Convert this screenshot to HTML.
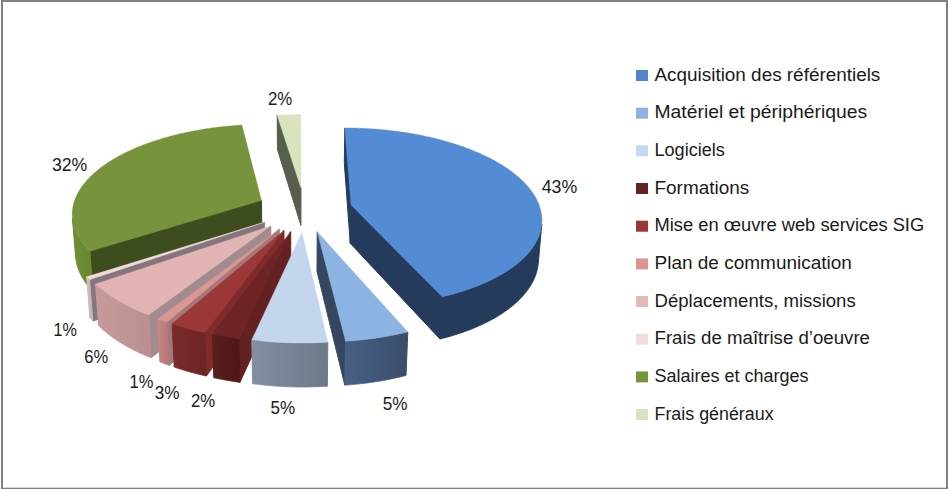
<!DOCTYPE html>
<html><head><meta charset="utf-8"><style>
html,body{margin:0;padding:0;background:#fff;}
body{width:948px;height:489px;overflow:hidden;position:relative;}
svg{position:absolute;left:0;top:0;}
text{font-family:"Liberation Sans",sans-serif;font-size:17.5px;fill:#1a1a1a;}
</style></head><body>
<svg width="948" height="489" viewBox="0 0 948 489">
<rect x="1" y="0" width="947" height="2" fill="#808080"/><rect x="1" y="0" width="2" height="489" fill="#808080"/><rect x="946" y="0" width="2" height="489" fill="#808080"/><rect x="1" y="487.7" width="947" height="1.3" fill="#808080"/>
<defs><linearGradient id="g8" gradientUnits="userSpaceOnUse" x1="72.4" y1="0" x2="89.8" y2="0"><stop offset="0" stop-color="#6F8E34"/><stop offset="1" stop-color="#6A8830"/></linearGradient><linearGradient id="g0" gradientUnits="userSpaceOnUse" x1="442.3" y1="0" x2="541.7" y2="0"><stop offset="0" stop-color="#243B5C"/><stop offset="1" stop-color="#243B5C"/></linearGradient><linearGradient id="g7" gradientUnits="userSpaceOnUse" x1="86.6" y1="0" x2="89.6" y2="0"><stop offset="0" stop-color="#D2C0C1"/><stop offset="1" stop-color="#C8B6B7"/></linearGradient><linearGradient id="g6" gradientUnits="userSpaceOnUse" x1="95.5" y1="0" x2="148.6" y2="0"><stop offset="0" stop-color="#C69B9C"/><stop offset="1" stop-color="#BC9092"/></linearGradient><linearGradient id="g5" gradientUnits="userSpaceOnUse" x1="157.6" y1="0" x2="166.9" y2="0"><stop offset="0" stop-color="#C98785"/><stop offset="1" stop-color="#B87A78"/></linearGradient><linearGradient id="g4" gradientUnits="userSpaceOnUse" x1="172.1" y1="0" x2="204.8" y2="0"><stop offset="0" stop-color="#7A2A2A"/><stop offset="1" stop-color="#6C2525"/></linearGradient><linearGradient id="g3" gradientUnits="userSpaceOnUse" x1="212.4" y1="0" x2="238.9" y2="0"><stop offset="0" stop-color="#5A1D1D"/><stop offset="1" stop-color="#4E1818"/></linearGradient><linearGradient id="g1" gradientUnits="userSpaceOnUse" x1="345.6" y1="0" x2="407.8" y2="0"><stop offset="0" stop-color="#485F83"/><stop offset="1" stop-color="#3A4E6B"/></linearGradient><linearGradient id="g2" gradientUnits="userSpaceOnUse" x1="251.8" y1="0" x2="327.8" y2="0"><stop offset="0" stop-color="#838FA0"/><stop offset="1" stop-color="#6D7889"/></linearGradient></defs><polygon points="300.96,187.90 277.18,115.27 277.44,149.44 300.93,225.44" fill="#575F4C" stroke="#575F4C" stroke-width="1.0" stroke-linejoin="round"/><polygon points="300.96,187.90 277.18,115.27 278.74,115.18 280.31,115.10 281.87,115.02 283.44,114.95 285.01,114.88 286.57,114.83 288.14,114.77 289.71,114.73 291.29,114.69 292.86,114.66 294.43,114.63 296.00,114.61 297.58,114.59 299.15,114.58 300.72,114.58" fill="#D7E4BD" stroke="#D7E4BD" stroke-width="0.4" stroke-linejoin="round"/><polygon points="261.43,200.42 89.83,251.28 92.96,291.56 261.95,238.52" fill="#3D4D1F" stroke="#3D4D1F" stroke-width="1.0" stroke-linejoin="round"/><polygon points="89.83,251.28 89.41,250.85 88.99,250.43 88.57,250.01 88.17,249.58 87.76,249.16 87.36,248.73 86.97,248.30 86.58,247.88 86.20,247.45 85.82,247.02 85.45,246.59 85.08,246.16 84.72,245.73 84.36,245.30 84.01,244.86 83.66,244.43 83.32,244.00 82.99,243.56 82.66,243.13 82.33,242.69 82.01,242.25 81.69,241.82 81.38,241.38 81.08,240.94 80.78,240.50 80.49,240.06 80.20,239.62 79.91,239.18 79.63,238.74 79.36,238.30 79.09,237.86 78.83,237.42 78.57,236.98 78.32,236.53 78.07,236.09 77.83,235.65 77.59,235.20 77.36,234.76 77.13,234.31 76.91,233.87 76.70,233.42 76.49,232.98 76.28,232.53 76.08,232.09 75.88,231.64 75.69,231.19 75.51,230.75 75.33,230.30 75.15,229.85 74.98,229.41 74.82,228.96 74.66,228.51 74.50,228.06 74.36,227.61 74.21,227.17 74.07,226.72 73.94,226.27 73.81,225.82 73.69,225.37 73.57,224.92 73.45,224.48 73.34,224.03 73.24,223.58 73.14,223.13 73.05,222.68 72.96,222.23 72.88,221.78 72.80,221.34 72.73,220.89 72.66,220.44 72.59,219.99 72.54,219.54 72.48,219.10 72.43,218.65 72.39,218.20 75.62,257.07 75.66,257.54 75.71,258.01 75.77,258.48 75.83,258.94 75.89,259.41 75.96,259.88 76.04,260.35 76.11,260.81 76.20,261.28 76.29,261.75 76.38,262.22 76.48,262.69 76.59,263.15 76.70,263.62 76.81,264.09 76.93,264.56 77.05,265.02 77.18,265.49 77.32,265.96 77.46,266.43 77.60,266.89 77.75,267.36 77.90,267.83 78.06,268.30 78.23,268.76 78.40,269.23 78.57,269.69 78.75,270.16 78.94,270.63 79.12,271.09 79.32,271.56 79.52,272.02 79.72,272.49 79.93,272.95 80.15,273.42 80.37,273.88 80.60,274.34 80.83,274.81 81.06,275.27 81.30,275.73 81.55,276.19 81.80,276.66 82.06,277.12 82.32,277.58 82.58,278.04 82.85,278.50 83.13,278.96 83.41,279.42 83.70,279.87 83.99,280.33 84.29,280.79 84.59,281.25 84.90,281.70 85.21,282.16 85.53,282.61 85.85,283.07 86.18,283.52 86.51,283.97 86.85,284.43 87.19,284.88 87.54,285.33 87.90,285.78 88.25,286.23 88.62,286.68 88.99,287.12 89.36,287.57 89.74,288.02 90.12,288.46 90.51,288.91 90.91,289.35 91.31,289.80 91.71,290.24 92.12,290.68 92.54,291.12 92.96,291.56" fill="url(#g8)" stroke="url(#g8)" stroke-width="1.0" stroke-linejoin="round"/><polygon points="261.43,200.42 89.83,251.28 89.09,250.54 88.37,249.80 87.66,249.05 86.97,248.30 86.29,247.56 85.63,246.80 84.99,246.05 84.36,245.30 83.75,244.54 83.15,243.78 82.57,243.02 82.01,242.25 81.46,241.49 80.93,240.72 80.41,239.95 79.91,239.18 79.43,238.41 78.96,237.64 78.51,236.86 78.07,236.09 77.65,235.31 77.25,234.54 76.86,233.76 76.49,232.98 76.13,232.20 75.79,231.42 75.46,230.63 75.15,229.85 74.86,229.07 74.58,228.29 74.32,227.50 74.07,226.72 73.84,225.93 73.63,225.15 73.43,224.36 73.24,223.58 73.07,222.79 72.92,222.01 72.78,221.22 72.66,220.44 72.55,219.66 72.46,218.87 72.38,218.09 72.32,217.30 72.27,216.52 72.24,215.74 72.22,214.96 72.22,214.18 72.23,213.40 72.26,212.62 72.30,211.84 72.36,211.06 72.43,210.29 72.52,209.51 72.62,208.74 72.74,207.96 72.87,207.19 73.01,206.42 73.17,205.65 73.35,204.88 73.53,204.12 73.74,203.35 73.95,202.59 74.18,201.83 74.43,201.07 74.68,200.31 74.95,199.55 75.24,198.80 75.54,198.05 75.85,197.30 76.18,196.55 76.52,195.80 76.87,195.06 77.24,194.31 77.61,193.57 78.01,192.83 78.41,192.10 78.83,191.36 79.26,190.63 79.71,189.90 80.16,189.18 80.63,188.45 81.12,187.73 81.61,187.01 82.12,186.30 82.64,185.59 83.17,184.87 83.72,184.17 84.27,183.46 84.84,182.76 85.42,182.06 86.01,181.36 86.62,180.67 87.23,179.98 87.86,179.29 88.50,178.61 89.15,177.93 89.81,177.25 90.49,176.57 91.17,175.90 91.87,175.24 92.58,174.57 93.29,173.91 94.02,173.25 94.76,172.60 95.51,171.94 96.27,171.30 97.05,170.65 97.83,170.01 98.62,169.37 99.42,168.74 100.24,168.11 101.06,167.48 101.90,166.86 102.74,166.24 103.59,165.62 104.46,165.01 105.33,164.41 106.21,163.80 107.10,163.20 108.00,162.60 108.92,162.01 109.84,161.42 110.77,160.84 111.70,160.26 112.65,159.68 113.61,159.11 114.57,158.54 115.55,157.98 116.53,157.42 117.52,156.86 118.52,156.31 119.53,155.76 120.55,155.22 121.58,154.68 122.61,154.14 123.65,153.61 124.70,153.09 125.76,152.56 126.82,152.05 127.90,151.53 128.98,151.02 130.07,150.52 131.16,150.02 132.27,149.52 133.38,149.03 134.50,148.54 135.62,148.06 136.75,147.58 137.89,147.11 139.04,146.64 140.19,146.18 141.35,145.72 142.52,145.26 143.69,144.81 144.87,144.37 146.06,143.92 147.25,143.49 148.45,143.05 149.66,142.63 150.87,142.20 152.09,141.79 153.31,141.37 154.54,140.96 155.77,140.56 157.02,140.16 158.26,139.77 159.51,139.38 160.77,138.99 162.03,138.61 163.30,138.24 164.58,137.86 165.85,137.50 167.14,137.14 168.43,136.78 169.72,136.43 171.02,136.08 172.32,135.74 173.63,135.41 174.94,135.07 176.26,134.75 177.58,134.43 178.91,134.11 180.24,133.80 181.57,133.49 182.91,133.19 184.25,132.89 185.60,132.60 186.95,132.31 188.30,132.03 189.66,131.75 191.02,131.48 192.39,131.21 193.75,130.95 195.13,130.69 196.50,130.44 197.88,130.20 199.26,129.95 200.65,129.72 202.04,129.48 203.43,129.26 204.82,129.04 206.22,128.82 207.62,128.61 209.02,128.40 210.42,128.20 211.83,128.00 213.24,127.81 214.65,127.63 216.07,127.45 217.48,127.27 218.90,127.10 220.32,126.93 221.75,126.77 223.17,126.62 224.60,126.47 226.03,126.32 227.46,126.18 228.89,126.05 230.32,125.92 231.76,125.79 233.19,125.67 234.63,125.56 236.07,125.45 237.51,125.35 238.95,125.25 240.39,125.15 241.84,125.07" fill="#77933C" stroke="#77933C" stroke-width="0.4" stroke-linejoin="round"/><polygon points="351.01,205.05 344.85,127.96 344.29,162.73 350.28,243.35" fill="#243B5C" stroke="#243B5C" stroke-width="1.0" stroke-linejoin="round"/><polygon points="351.01,205.05 442.25,296.86 439.97,339.01 350.28,243.35" fill="#243B5C" stroke="#243B5C" stroke-width="1.0" stroke-linejoin="round"/><polygon points="541.75,224.22 541.69,224.84 541.61,225.46 541.53,226.09 541.44,226.71 541.34,227.33 541.23,227.95 541.11,228.58 540.98,229.20 540.84,229.82 540.69,230.44 540.54,231.06 540.37,231.69 540.19,232.31 540.00,232.93 539.81,233.55 539.60,234.17 539.39,234.79 539.16,235.41 538.93,236.03 538.68,236.65 538.43,237.27 538.16,237.89 537.89,238.51 537.61,239.13 537.31,239.75 537.01,240.36 536.70,240.98 536.37,241.59 536.04,242.21 535.70,242.82 535.35,243.44 534.98,244.05 534.61,244.66 534.23,245.27 533.84,245.88 533.44,246.49 533.02,247.09 532.60,247.70 532.17,248.31 531.73,248.91 531.28,249.51 530.82,250.12 530.35,250.72 529.87,251.32 529.38,251.91 528.88,252.51 528.37,253.11 527.85,253.70 527.32,254.29 526.78,254.88 526.23,255.47 525.67,256.06 525.10,256.65 524.52,257.23 523.93,257.81 523.33,258.40 522.72,258.97 522.11,259.55 521.48,260.13 520.84,260.70 520.19,261.27 519.54,261.84 518.87,262.41 518.19,262.98 517.51,263.54 516.81,264.10 516.11,264.66 515.39,265.22 514.67,265.78 513.93,266.33 513.19,266.88 512.43,267.43 511.67,267.97 510.90,268.52 510.12,269.06 509.33,269.60 508.53,270.13 507.72,270.67 506.90,271.20 506.07,271.72 505.23,272.25 504.38,272.77 503.53,273.29 502.66,273.81 501.79,274.32 500.90,274.84 500.01,275.34 499.11,275.85 498.20,276.35 497.28,276.85 496.35,277.35 495.41,277.84 494.47,278.33 493.51,278.82 492.55,279.30 491.57,279.78 490.59,280.26 489.60,280.73 488.60,281.20 487.60,281.67 486.58,282.13 485.56,282.59 484.52,283.05 483.48,283.50 482.43,283.95 481.38,284.40 480.31,284.84 479.24,285.28 478.16,285.72 477.07,286.15 475.97,286.57 474.86,287.00 473.75,287.42 472.63,287.83 471.50,288.24 470.36,288.65 469.22,289.06 468.07,289.45 466.91,289.85 465.74,290.24 464.56,290.63 463.38,291.01 462.19,291.39 461.00,291.77 459.80,292.14 458.59,292.50 457.37,292.87 456.15,293.22 454.92,293.58 453.68,293.92 452.43,294.27 451.18,294.61 449.93,294.94 448.66,295.28 447.39,295.60 446.12,295.92 444.83,296.24 443.55,296.55 442.25,296.86 439.97,339.01 441.25,338.69 442.52,338.36 443.78,338.03 445.04,337.70 446.29,337.36 447.53,337.01 448.77,336.67 450.00,336.31 451.23,335.95 452.45,335.59 453.66,335.22 454.86,334.85 456.06,334.48 457.25,334.09 458.44,333.71 459.62,333.32 460.79,332.93 461.95,332.53 463.11,332.12 464.26,331.72 465.40,331.31 466.54,330.89 467.66,330.47 468.78,330.05 469.90,329.62 471.00,329.18 472.10,328.75 473.19,328.31 474.27,327.86 475.35,327.41 476.41,326.96 477.47,326.51 478.52,326.05 479.56,325.58 480.60,325.11 481.63,324.64 482.64,324.17 483.65,323.69 484.66,323.21 485.65,322.72 486.63,322.23 487.61,321.74 488.58,321.24 489.54,320.74 490.49,320.24 491.43,319.73 492.37,319.22 493.29,318.71 494.21,318.19 495.12,317.67 496.01,317.15 496.90,316.62 497.79,316.09 498.66,315.56 499.52,315.03 500.38,314.49 501.22,313.95 502.06,313.40 502.88,312.86 503.70,312.31 504.51,311.75 505.31,311.20 506.10,310.64 506.88,310.08 507.66,309.52 508.42,308.95 509.17,308.38 509.92,307.81 510.65,307.24 511.38,306.66 512.09,306.08 512.80,305.50 513.50,304.92 514.18,304.34 514.86,303.75 515.53,303.16 516.19,302.57 516.84,301.97 517.48,301.38 518.11,300.78 518.73,300.18 519.34,299.58 519.95,298.98 520.54,298.37 521.12,297.76 521.69,297.15 522.26,296.54 522.81,295.93 523.35,295.32 523.89,294.70 524.41,294.09 524.93,293.47 525.43,292.85 525.93,292.22 526.42,291.60 526.89,290.98 527.36,290.35 527.82,289.72 528.26,289.10 528.70,288.47 529.13,287.84 529.55,287.20 529.95,286.57 530.35,285.94 530.74,285.30 531.12,284.66 531.49,284.03 531.85,283.39 532.20,282.75 532.54,282.11 532.87,281.47 533.19,280.83 533.51,280.19 533.81,279.54 534.10,278.90 534.38,278.26 534.66,277.61 534.92,276.97 535.17,276.32 535.42,275.67 535.65,275.03 535.88,274.38 536.09,273.73 536.30,273.09 536.50,272.44 536.68,271.79 536.86,271.14 537.03,270.49 537.19,269.84 537.34,269.19 537.48,268.55 537.61,267.90 537.73,267.25 537.84,266.60 537.94,265.95 538.03,265.30 538.12,264.65 538.19,264.00 538.26,263.35" fill="url(#g0)" stroke="url(#g0)" stroke-width="1.0" stroke-linejoin="round"/><polygon points="351.01,205.05 344.85,127.96 346.31,127.96 347.77,127.97 349.22,127.98 350.68,128.00 352.14,128.02 353.60,128.05 355.06,128.08 356.51,128.12 357.97,128.17 359.43,128.22 360.89,128.27 362.34,128.33 363.80,128.40 365.25,128.47 366.71,128.54 368.16,128.63 369.62,128.71 371.07,128.80 372.52,128.90 373.97,129.00 375.42,129.11 376.87,129.22 378.32,129.34 379.77,129.46 381.21,129.59 382.65,129.73 384.10,129.86 385.54,130.01 386.98,130.16 388.41,130.31 389.85,130.47 391.28,130.63 392.71,130.80 394.14,130.98 395.57,131.16 397.00,131.34 398.42,131.53 399.84,131.73 401.26,131.93 402.68,132.14 404.09,132.35 405.50,132.56 406.91,132.79 408.32,133.01 409.72,133.24 411.12,133.48 412.52,133.72 413.91,133.97 415.30,134.22 416.69,134.48 418.07,134.74 419.45,135.01 420.83,135.28 422.21,135.56 423.58,135.84 424.94,136.13 426.31,136.42 427.67,136.72 429.02,137.02 430.37,137.33 431.72,137.64 433.06,137.96 434.40,138.28 435.74,138.61 437.07,138.94 438.39,139.28 439.71,139.62 441.03,139.97 442.34,140.32 443.65,140.68 444.95,141.04 446.25,141.40 447.54,141.78 448.83,142.15 450.11,142.54 451.39,142.92 452.66,143.31 453.93,143.71 455.19,144.11 456.44,144.52 457.69,144.93 458.94,145.34 460.18,145.76 461.41,146.19 462.63,146.62 463.85,147.05 465.07,147.49 466.28,147.94 467.48,148.38 468.67,148.84 469.86,149.30 471.04,149.76 472.22,150.22 473.39,150.70 474.55,151.17 475.70,151.65 476.85,152.14 477.99,152.63 479.13,153.12 480.25,153.62 481.37,154.13 482.49,154.64 483.59,155.15 484.69,155.66 485.78,156.19 486.86,156.71 487.93,157.24 489.00,157.78 490.06,158.32 491.11,158.86 492.15,159.41 493.18,159.96 494.21,160.51 495.22,161.07 496.23,161.64 497.23,162.21 498.22,162.78 499.20,163.36 500.18,163.94 501.14,164.52 502.10,165.11 503.04,165.70 503.98,166.30 504.91,166.90 505.83,167.51 506.74,168.12 507.63,168.73 508.52,169.35 509.40,169.97 510.28,170.59 511.14,171.22 511.99,171.85 512.83,172.49 513.66,173.13 514.48,173.77 515.29,174.42 516.09,175.07 516.88,175.72 517.65,176.38 518.42,177.04 519.18,177.70 519.92,178.37 520.66,179.04 521.38,179.72 522.10,180.40 522.80,181.08 523.49,181.76 524.17,182.45 524.84,183.14 525.49,183.83 526.14,184.53 526.77,185.23 527.39,185.94 528.00,186.64 528.60,187.35 529.19,188.06 529.76,188.78 530.32,189.50 530.87,190.22 531.41,190.94 531.93,191.67 532.45,192.40 532.95,193.13 533.43,193.86 533.91,194.60 534.37,195.34 534.82,196.08 535.25,196.82 535.67,197.57 536.08,198.32 536.48,199.07 536.86,199.82 537.23,200.58 537.59,201.33 537.93,202.09 538.26,202.86 538.58,203.62 538.88,204.38 539.17,205.15 539.44,205.92 539.70,206.69 539.95,207.46 540.18,208.24 540.40,209.01 540.60,209.79 540.79,210.57 540.96,211.35 541.13,212.13 541.27,212.91 541.40,213.70 541.52,214.48 541.62,215.27 541.71,216.06 541.79,216.84 541.84,217.63 541.89,218.42 541.92,219.22 541.93,220.01 541.93,220.80 541.91,221.59 541.88,222.39 541.83,223.18 541.77,223.98 541.69,224.77 541.60,225.57 541.49,226.36 541.37,227.16 541.23,227.95 541.07,228.75 540.90,229.54 540.72,230.34 540.52,231.14 540.30,231.93 540.07,232.73 539.82,233.52 539.55,234.32 539.27,235.11 538.98,235.90 538.66,236.70 538.34,237.49 537.99,238.28 537.63,239.07 537.26,239.86 536.87,240.65 536.46,241.43 536.03,242.22 535.59,243.01 535.14,243.79 534.67,244.57 534.18,245.35 533.67,246.13 533.15,246.91 532.62,247.68 532.06,248.46 531.49,249.23 530.91,250.00 530.31,250.77 529.69,251.53 529.06,252.30 528.41,253.06 527.74,253.82 527.06,254.58 526.36,255.33 525.65,256.08 524.92,256.83 524.17,257.58 523.41,258.32 522.63,259.06 521.84,259.80 521.03,260.54 520.20,261.27 519.36,262.00 518.50,262.72 517.63,263.44 516.74,264.16 515.83,264.88 514.91,265.59 513.97,266.30 513.02,267.00 512.05,267.70 511.07,268.40 510.07,269.09 509.06,269.78 508.03,270.46 506.98,271.14 505.92,271.82 504.85,272.49 503.76,273.15 502.65,273.81 501.53,274.47 500.40,275.12 499.25,275.77 498.08,276.41 496.90,277.05 495.71,277.68 494.50,278.31 493.28,278.93 492.04,279.55 490.79,280.16 489.53,280.77 488.25,281.37 486.95,281.97 485.65,282.55 484.32,283.14 482.99,283.72 481.64,284.29 480.28,284.85 478.90,285.41 477.52,285.97 476.12,286.52 474.70,287.06 473.27,287.59 471.84,288.12 470.38,288.64 468.92,289.16 467.44,289.67 465.95,290.17 464.45,290.67 462.94,291.16 461.41,291.64 459.88,292.11 458.33,292.58 456.77,293.04 455.20,293.49 453.62,293.94 452.03,294.38 450.42,294.81 448.81,295.24 447.19,295.65 445.55,296.06 443.91,296.47 442.25,296.86" fill="#538CD4" stroke="#538CD4" stroke-width="0.4" stroke-linejoin="round"/><polygon points="264.24,222.27 89.56,279.66 92.81,321.11 264.73,261.32" fill="#84767A" stroke="#84767A" stroke-width="1.0" stroke-linejoin="round"/><polygon points="89.56,279.66 89.55,279.65 89.54,279.64 89.53,279.64 89.53,279.63 89.52,279.62 89.51,279.62 89.50,279.61 89.50,279.60 89.49,279.59 89.48,279.59 89.47,279.58 89.47,279.57 89.46,279.56 89.45,279.56 89.44,279.55 89.44,279.54 89.43,279.54 89.42,279.53 89.41,279.52 89.40,279.51 89.40,279.51 89.39,279.50 89.38,279.49 89.37,279.49 89.37,279.48 89.36,279.47 89.35,279.46 89.34,279.46 89.34,279.45 89.33,279.44 89.32,279.43 89.31,279.43 89.31,279.42 89.30,279.41 89.29,279.41 89.28,279.40 89.27,279.39 89.27,279.38 89.26,279.38 89.25,279.37 89.24,279.36 89.24,279.36 89.23,279.35 89.22,279.34 89.21,279.33 89.21,279.33 89.20,279.32 89.19,279.31 89.18,279.30 89.18,279.30 89.17,279.29 89.16,279.28 89.15,279.28 89.15,279.27 89.14,279.26 89.13,279.25 89.12,279.25 89.12,279.24 89.11,279.23 89.10,279.23 89.09,279.22 89.08,279.21 89.08,279.20 89.07,279.20 89.06,279.19 89.05,279.18 89.05,279.17 89.04,279.17 89.03,279.16 89.02,279.15 89.02,279.15 89.01,279.14 89.00,279.13 88.99,279.12 88.99,279.12 88.98,279.11 88.97,279.10 88.96,279.10 88.96,279.09 88.95,279.08 88.94,279.07 88.93,279.07 88.93,279.06 88.92,279.05 88.91,279.04 88.90,279.04 88.90,279.03 88.89,279.02 88.88,279.02 88.87,279.01 88.87,279.00 88.86,278.99 88.85,278.99 88.84,278.98 88.84,278.97 88.83,278.97 88.82,278.96 88.81,278.95 88.80,278.94 88.80,278.94 88.79,278.93 88.78,278.92 88.77,278.91 88.77,278.91 88.76,278.90 88.75,278.89 88.74,278.89 88.74,278.88 88.73,278.87 88.72,278.86 88.71,278.86 88.71,278.85 88.70,278.84 88.69,278.83 88.68,278.83 88.68,278.82 88.67,278.81 88.66,278.81 88.65,278.80 88.65,278.79 88.64,278.78 88.63,278.78 88.62,278.77 88.62,278.76 88.61,278.76 88.60,278.75 88.59,278.74 88.59,278.73 88.58,278.73 88.57,278.72 88.56,278.71 88.56,278.70 88.55,278.70 88.54,278.69 88.53,278.68 88.53,278.68 88.52,278.67 88.51,278.66 88.50,278.65 88.50,278.65 88.49,278.64 88.48,278.63 88.47,278.62 88.47,278.62 88.46,278.61 88.45,278.60 88.44,278.60 88.44,278.59 88.43,278.58 88.42,278.57 88.42,278.57 88.41,278.56 88.40,278.55 88.39,278.55 88.39,278.54 88.38,278.53 88.37,278.52 88.36,278.52 88.36,278.51 88.35,278.50 88.34,278.49 88.33,278.49 88.33,278.48 88.32,278.47 88.31,278.47 88.30,278.46 88.30,278.45 88.29,278.44 88.28,278.44 88.27,278.43 88.27,278.42 88.26,278.41 88.25,278.41 88.24,278.40 88.24,278.39 88.23,278.39 88.22,278.38 88.21,278.37 88.21,278.36 88.20,278.36 88.19,278.35 88.18,278.34 88.18,278.33 88.17,278.33 88.16,278.32 88.15,278.31 88.15,278.31 88.14,278.30 88.13,278.29 88.13,278.28 88.12,278.28 88.11,278.27 88.10,278.26 88.10,278.25 88.09,278.25 88.08,278.24 88.07,278.23 88.07,278.23 88.06,278.22 88.05,278.21 88.04,278.20 88.04,278.20 88.03,278.19 88.02,278.18 88.01,278.18 88.01,278.17 88.00,278.16 87.99,278.15 87.98,278.15 87.98,278.14 87.97,278.13 87.96,278.12 87.96,278.12 87.95,278.11 87.94,278.10 87.93,278.10 87.93,278.09 87.92,278.08 87.91,278.07 87.90,278.07 87.90,278.06 87.89,278.05 87.88,278.04 87.87,278.04 87.87,278.03 87.86,278.02 87.85,278.02 87.84,278.01 87.84,278.00 87.83,277.99 87.82,277.99 87.82,277.98 87.81,277.97 87.80,277.96 87.79,277.96 87.79,277.95 87.78,277.94 87.77,277.94 87.76,277.93 87.76,277.92 87.75,277.91 87.74,277.91 87.73,277.90 87.73,277.89 87.72,277.88 87.71,277.88 87.71,277.87 87.70,277.86 87.69,277.86 87.68,277.85 87.68,277.84 87.67,277.83 87.66,277.83 87.65,277.82 87.65,277.81 87.64,277.80 87.63,277.80 87.62,277.79 87.62,277.78 87.61,277.78 87.60,277.77 87.60,277.76 87.59,277.75 87.58,277.75 87.57,277.74 87.57,277.73 87.56,277.72 87.55,277.72 87.54,277.71 87.54,277.70 87.53,277.70 87.52,277.69 87.52,277.68 87.51,277.67 87.50,277.67 87.49,277.66 87.49,277.65 87.48,277.64 87.47,277.64 87.46,277.63 87.46,277.62 87.45,277.62 87.44,277.61 87.44,277.60 87.43,277.59 87.42,277.59 87.41,277.58 87.41,277.57 87.40,277.56 87.39,277.56 87.38,277.55 87.38,277.54 87.37,277.53 87.36,277.53 87.36,277.52 87.35,277.51 87.34,277.51 87.33,277.50 87.33,277.49 87.32,277.48 87.31,277.48 87.30,277.47 87.30,277.46 87.29,277.45 87.28,277.45 87.28,277.44 87.27,277.43 87.26,277.43 87.25,277.42 87.25,277.41 87.24,277.40 87.23,277.40 87.22,277.39 87.22,277.38 87.21,277.37 87.20,277.37 87.20,277.36 87.19,277.35 87.18,277.35 87.17,277.34 87.17,277.33 87.16,277.32 87.15,277.32 87.15,277.31 87.14,277.30 87.13,277.29 87.12,277.29 87.12,277.28 87.11,277.27 87.10,277.27 87.09,277.26 87.09,277.25 87.08,277.24 87.07,277.24 87.07,277.23 87.06,277.22 87.05,277.21 87.04,277.21 87.04,277.20 87.03,277.19 87.02,277.19 87.02,277.18 87.01,277.17 87.00,277.16 86.99,277.16 86.99,277.15 86.98,277.14 86.97,277.13 86.97,277.13 86.96,277.12 86.95,277.11 86.94,277.10 86.94,277.10 86.93,277.09 86.92,277.08 86.92,277.08 86.91,277.07 86.90,277.06 86.89,277.05 86.89,277.05 86.88,277.04 86.87,277.03 86.86,277.02 86.86,277.02 86.85,277.01 86.84,277.00 86.84,277.00 86.83,276.99 86.82,276.98 86.81,276.97 86.81,276.97 86.80,276.96 86.79,276.95 86.79,276.94 86.78,276.94 86.77,276.93 86.76,276.92 86.76,276.91 86.75,276.91 86.74,276.90 86.74,276.89 86.73,276.89 86.72,276.88 86.71,276.87 86.71,276.86 86.70,276.86 86.69,276.85 86.69,276.84 86.68,276.83 86.67,276.83 86.66,276.82 86.66,276.81 86.65,276.81 86.64,276.80 86.64,276.79 86.63,276.78 86.62,276.78 86.62,276.77 86.61,276.76 89.90,318.10 89.90,318.11 89.91,318.11 89.92,318.12 89.92,318.13 89.93,318.14 89.94,318.14 89.94,318.15 89.95,318.16 89.96,318.17 89.97,318.17 89.97,318.18 89.98,318.19 89.99,318.20 89.99,318.20 90.00,318.21 90.01,318.22 90.01,318.23 90.02,318.24 90.03,318.24 90.04,318.25 90.04,318.26 90.05,318.27 90.06,318.27 90.06,318.28 90.07,318.29 90.08,318.30 90.09,318.30 90.09,318.31 90.10,318.32 90.11,318.33 90.11,318.33 90.12,318.34 90.13,318.35 90.14,318.36 90.14,318.36 90.15,318.37 90.16,318.38 90.16,318.39 90.17,318.39 90.18,318.40 90.18,318.41 90.19,318.42 90.20,318.43 90.21,318.43 90.21,318.44 90.22,318.45 90.23,318.46 90.23,318.46 90.24,318.47 90.25,318.48 90.26,318.49 90.26,318.49 90.27,318.50 90.28,318.51 90.28,318.52 90.29,318.52 90.30,318.53 90.31,318.54 90.31,318.55 90.32,318.55 90.33,318.56 90.33,318.57 90.34,318.58 90.35,318.58 90.36,318.59 90.36,318.60 90.37,318.61 90.38,318.61 90.38,318.62 90.39,318.63 90.40,318.64 90.41,318.65 90.41,318.65 90.42,318.66 90.43,318.67 90.43,318.68 90.44,318.68 90.45,318.69 90.46,318.70 90.46,318.71 90.47,318.71 90.48,318.72 90.48,318.73 90.49,318.74 90.50,318.74 90.51,318.75 90.51,318.76 90.52,318.77 90.53,318.77 90.53,318.78 90.54,318.79 90.55,318.80 90.56,318.80 90.56,318.81 90.57,318.82 90.58,318.83 90.58,318.83 90.59,318.84 90.60,318.85 90.61,318.86 90.61,318.87 90.62,318.87 90.63,318.88 90.63,318.89 90.64,318.90 90.65,318.90 90.66,318.91 90.66,318.92 90.67,318.93 90.68,318.93 90.68,318.94 90.69,318.95 90.70,318.96 90.71,318.96 90.71,318.97 90.72,318.98 90.73,318.99 90.73,318.99 90.74,319.00 90.75,319.01 90.76,319.02 90.76,319.02 90.77,319.03 90.78,319.04 90.79,319.05 90.79,319.05 90.80,319.06 90.81,319.07 90.81,319.08 90.82,319.09 90.83,319.09 90.84,319.10 90.84,319.11 90.85,319.12 90.86,319.12 90.86,319.13 90.87,319.14 90.88,319.15 90.89,319.15 90.89,319.16 90.90,319.17 90.91,319.18 90.92,319.18 90.92,319.19 90.93,319.20 90.94,319.21 90.94,319.21 90.95,319.22 90.96,319.23 90.97,319.24 90.97,319.24 90.98,319.25 90.99,319.26 90.99,319.27 91.00,319.27 91.01,319.28 91.02,319.29 91.02,319.30 91.03,319.30 91.04,319.31 91.05,319.32 91.05,319.33 91.06,319.33 91.07,319.34 91.07,319.35 91.08,319.36 91.09,319.37 91.10,319.37 91.10,319.38 91.11,319.39 91.12,319.40 91.13,319.40 91.13,319.41 91.14,319.42 91.15,319.43 91.15,319.43 91.16,319.44 91.17,319.45 91.18,319.46 91.18,319.46 91.19,319.47 91.20,319.48 91.21,319.49 91.21,319.49 91.22,319.50 91.23,319.51 91.23,319.52 91.24,319.52 91.25,319.53 91.26,319.54 91.26,319.55 91.27,319.55 91.28,319.56 91.29,319.57 91.29,319.58 91.30,319.58 91.31,319.59 91.32,319.60 91.32,319.61 91.33,319.61 91.34,319.62 91.34,319.63 91.35,319.64 91.36,319.64 91.37,319.65 91.37,319.66 91.38,319.67 91.39,319.68 91.40,319.68 91.40,319.69 91.41,319.70 91.42,319.71 91.42,319.71 91.43,319.72 91.44,319.73 91.45,319.74 91.45,319.74 91.46,319.75 91.47,319.76 91.48,319.77 91.48,319.77 91.49,319.78 91.50,319.79 91.51,319.80 91.51,319.80 91.52,319.81 91.53,319.82 91.54,319.83 91.54,319.83 91.55,319.84 91.56,319.85 91.56,319.86 91.57,319.86 91.58,319.87 91.59,319.88 91.59,319.89 91.60,319.89 91.61,319.90 91.62,319.91 91.62,319.92 91.63,319.92 91.64,319.93 91.65,319.94 91.65,319.95 91.66,319.95 91.67,319.96 91.67,319.97 91.68,319.98 91.69,319.98 91.70,319.99 91.70,320.00 91.71,320.01 91.72,320.01 91.73,320.02 91.73,320.03 91.74,320.04 91.75,320.04 91.76,320.05 91.76,320.06 91.77,320.07 91.78,320.08 91.79,320.08 91.79,320.09 91.80,320.10 91.81,320.11 91.82,320.11 91.82,320.12 91.83,320.13 91.84,320.14 91.84,320.14 91.85,320.15 91.86,320.16 91.87,320.17 91.87,320.17 91.88,320.18 91.89,320.19 91.90,320.20 91.90,320.20 91.91,320.21 91.92,320.22 91.93,320.23 91.93,320.23 91.94,320.24 91.95,320.25 91.96,320.26 91.96,320.26 91.97,320.27 91.98,320.28 91.99,320.29 91.99,320.29 92.00,320.30 92.01,320.31 92.02,320.32 92.02,320.32 92.03,320.33 92.04,320.34 92.05,320.35 92.05,320.35 92.06,320.36 92.07,320.37 92.08,320.38 92.08,320.38 92.09,320.39 92.10,320.40 92.11,320.41 92.11,320.41 92.12,320.42 92.13,320.43 92.13,320.44 92.14,320.44 92.15,320.45 92.16,320.46 92.16,320.47 92.17,320.47 92.18,320.48 92.19,320.49 92.19,320.50 92.20,320.50 92.21,320.51 92.22,320.52 92.22,320.53 92.23,320.53 92.24,320.54 92.25,320.55 92.25,320.56 92.26,320.56 92.27,320.57 92.28,320.58 92.28,320.59 92.29,320.59 92.30,320.60 92.31,320.61 92.31,320.62 92.32,320.62 92.33,320.63 92.34,320.64 92.34,320.65 92.35,320.65 92.36,320.66 92.37,320.67 92.37,320.68 92.38,320.68 92.39,320.69 92.40,320.70 92.40,320.71 92.41,320.71 92.42,320.72 92.43,320.73 92.43,320.74 92.44,320.74 92.45,320.75 92.46,320.76 92.46,320.77 92.47,320.78 92.48,320.78 92.49,320.79 92.49,320.80 92.50,320.81 92.51,320.81 92.52,320.82 92.52,320.83 92.53,320.84 92.54,320.84 92.55,320.85 92.55,320.86 92.56,320.87 92.57,320.87 92.58,320.88 92.59,320.89 92.59,320.90 92.60,320.90 92.61,320.91 92.62,320.92 92.62,320.93 92.63,320.93 92.64,320.94 92.65,320.95 92.65,320.96 92.66,320.96 92.67,320.97 92.68,320.98 92.68,320.99 92.69,320.99 92.70,321.00 92.71,321.01 92.71,321.02 92.72,321.02 92.73,321.03 92.74,321.04 92.74,321.05 92.75,321.05 92.76,321.06 92.77,321.07 92.77,321.08 92.78,321.08 92.79,321.09 92.80,321.10 92.80,321.11 92.81,321.11" fill="url(#g7)" stroke="url(#g7)" stroke-width="1.0" stroke-linejoin="round"/><polygon points="264.24,222.27 89.56,279.66 88.55,278.70 87.57,277.73 86.61,276.76" fill="#F2DCDB" stroke="#F2DCDB" stroke-width="0.4" stroke-linejoin="round"/><polygon points="270.72,226.05 148.59,314.90 151.04,357.76 271.12,265.26" fill="#A08C8F" stroke="#A08C8F" stroke-width="1.0" stroke-linejoin="round"/><polygon points="148.59,314.90 148.42,314.84 148.25,314.77 148.08,314.71 147.91,314.65 147.75,314.58 147.58,314.52 147.41,314.46 147.24,314.39 147.07,314.33 146.91,314.27 146.74,314.20 146.57,314.14 146.40,314.07 146.24,314.01 146.07,313.95 145.90,313.88 145.74,313.82 145.57,313.75 145.41,313.69 145.24,313.62 145.07,313.56 144.91,313.49 144.74,313.43 144.58,313.36 144.41,313.30 144.25,313.23 144.08,313.17 143.92,313.10 143.76,313.04 143.59,312.97 143.43,312.91 143.26,312.84 143.10,312.78 142.94,312.71 142.77,312.64 142.61,312.58 142.45,312.51 142.28,312.45 142.12,312.38 141.96,312.31 141.80,312.25 141.63,312.18 141.47,312.11 141.31,312.05 141.15,311.98 140.99,311.91 140.83,311.85 140.66,311.78 140.50,311.71 140.34,311.65 140.18,311.58 140.02,311.51 139.86,311.44 139.70,311.38 139.54,311.31 139.38,311.24 139.22,311.17 139.06,311.11 138.90,311.04 138.74,310.97 138.59,310.90 138.43,310.83 138.27,310.77 138.11,310.70 137.95,310.63 137.79,310.56 137.64,310.49 137.48,310.42 137.32,310.35 137.16,310.29 137.01,310.22 136.85,310.15 136.69,310.08 136.53,310.01 136.38,309.94 136.22,309.87 136.07,309.80 135.91,309.73 135.75,309.66 135.60,309.59 135.44,309.52 135.29,309.46 135.13,309.39 134.98,309.32 134.82,309.25 134.67,309.18 134.51,309.11 134.36,309.04 134.21,308.97 134.05,308.90 133.90,308.82 133.74,308.75 133.59,308.68 133.44,308.61 133.28,308.54 133.13,308.47 132.98,308.40 132.83,308.33 132.67,308.26 132.52,308.19 132.37,308.12 132.22,308.05 132.07,307.97 131.92,307.90 131.76,307.83 131.61,307.76 131.46,307.69 131.31,307.62 131.16,307.55 131.01,307.47 130.86,307.40 130.71,307.33 130.56,307.26 130.41,307.19 130.26,307.11 130.11,307.04 129.96,306.97 129.81,306.90 129.67,306.82 129.52,306.75 129.37,306.68 129.22,306.61 129.07,306.53 128.92,306.46 128.78,306.39 128.63,306.32 128.48,306.24 128.33,306.17 128.19,306.10 128.04,306.02 127.89,305.95 127.75,305.88 127.60,305.80 127.46,305.73 127.31,305.66 127.16,305.58 127.02,305.51 126.87,305.44 126.73,305.36 126.58,305.29 126.44,305.21 126.29,305.14 126.15,305.07 126.01,304.99 125.86,304.92 125.72,304.84 125.57,304.77 125.43,304.69 125.29,304.62 125.14,304.54 125.00,304.47 124.86,304.39 124.72,304.32 124.57,304.24 124.43,304.17 124.29,304.09 124.15,304.02 124.01,303.94 123.86,303.87 123.72,303.79 123.58,303.72 123.44,303.64 123.30,303.57 123.16,303.49 123.02,303.42 122.88,303.34 122.74,303.26 122.60,303.19 122.46,303.11 122.32,303.04 122.18,302.96 122.04,302.88 121.90,302.81 121.77,302.73 121.63,302.66 121.49,302.58 121.35,302.50 121.21,302.43 121.07,302.35 120.94,302.27 120.80,302.20 120.66,302.12 120.53,302.04 120.39,301.97 120.25,301.89 120.12,301.81 119.98,301.73 119.84,301.66 119.71,301.58 119.57,301.50 119.44,301.43 119.30,301.35 119.17,301.27 119.03,301.19 118.90,301.12 118.76,301.04 118.63,300.96 118.49,300.88 118.36,300.80 118.23,300.73 118.09,300.65 117.96,300.57 117.83,300.49 117.69,300.41 117.56,300.34 117.43,300.26 117.30,300.18 117.16,300.10 117.03,300.02 116.90,299.94 116.77,299.86 116.64,299.79 116.51,299.71 116.37,299.63 116.24,299.55 116.11,299.47 115.98,299.39 115.85,299.31 115.72,299.23 115.59,299.15 115.46,299.08 115.33,299.00 115.20,298.92 115.07,298.84 114.95,298.76 114.82,298.68 114.69,298.60 114.56,298.52 114.43,298.44 114.30,298.36 114.18,298.28 114.05,298.20 113.92,298.12 113.79,298.04 113.67,297.96 113.54,297.88 113.41,297.80 113.29,297.72 113.16,297.64 113.04,297.56 112.91,297.48 112.78,297.40 112.66,297.32 112.53,297.24 112.41,297.15 112.28,297.07 112.16,296.99 112.03,296.91 111.91,296.83 111.79,296.75 111.66,296.67 111.54,296.59 111.41,296.51 111.29,296.43 111.17,296.34 111.05,296.26 110.92,296.18 110.80,296.10 110.68,296.02 110.56,295.94 110.43,295.86 110.31,295.77 110.19,295.69 110.07,295.61 109.95,295.53 109.83,295.45 109.71,295.37 109.59,295.28 109.47,295.20 109.35,295.12 109.23,295.04 109.11,294.95 108.99,294.87 108.87,294.79 108.75,294.71 108.63,294.63 108.51,294.54 108.39,294.46 108.27,294.38 108.15,294.30 108.04,294.21 107.92,294.13 107.80,294.05 107.68,293.96 107.57,293.88 107.45,293.80 107.33,293.72 107.22,293.63 107.10,293.55 106.98,293.47 106.87,293.38 106.75,293.30 106.64,293.22 106.52,293.13 106.41,293.05 106.29,292.97 106.18,292.88 106.06,292.80 105.95,292.72 105.83,292.63 105.72,292.55 105.61,292.46 105.49,292.38 105.38,292.30 105.26,292.21 105.15,292.13 105.04,292.04 104.93,291.96 104.81,291.88 104.70,291.79 104.59,291.71 104.48,291.62 104.37,291.54 104.26,291.45 104.14,291.37 104.03,291.29 103.92,291.20 103.81,291.12 103.70,291.03 103.59,290.95 103.48,290.86 103.37,290.78 103.26,290.69 103.15,290.61 103.04,290.52 102.93,290.44 102.83,290.35 102.72,290.27 102.61,290.18 102.50,290.10 102.39,290.01 102.28,289.93 102.18,289.84 102.07,289.76 101.96,289.67 101.86,289.59 101.75,289.50 101.64,289.41 101.54,289.33 101.43,289.24 101.32,289.16 101.22,289.07 101.11,288.99 101.01,288.90 100.90,288.81 100.80,288.73 100.69,288.64 100.59,288.56 100.48,288.47 100.38,288.38 100.28,288.30 100.17,288.21 100.07,288.13 99.96,288.04 99.86,287.95 99.76,287.87 99.66,287.78 99.55,287.69 99.45,287.61 99.35,287.52 99.25,287.43 99.15,287.35 99.04,287.26 98.94,287.17 98.84,287.09 98.74,287.00 98.64,286.91 98.54,286.83 98.44,286.74 98.34,286.65 98.24,286.57 98.14,286.48 98.04,286.39 97.94,286.30 97.84,286.22 97.74,286.13 97.65,286.04 97.55,285.96 97.45,285.87 97.35,285.78 97.25,285.69 97.15,285.61 97.06,285.52 96.96,285.43 96.86,285.34 96.77,285.26 96.67,285.17 96.57,285.08 96.48,284.99 96.38,284.90 96.29,284.82 96.19,284.73 96.09,284.64 96.00,284.55 95.90,284.46 95.81,284.38 95.72,284.29 95.62,284.20 95.53,284.11 98.71,325.75 98.80,325.84 98.89,325.93 98.99,326.02 99.08,326.11 99.17,326.21 99.27,326.30 99.36,326.39 99.46,326.48 99.55,326.57 99.65,326.66 99.74,326.75 99.84,326.85 99.93,326.94 100.03,327.03 100.12,327.12 100.22,327.21 100.32,327.30 100.41,327.39 100.51,327.48 100.61,327.57 100.70,327.66 100.80,327.76 100.90,327.85 101.00,327.94 101.09,328.03 101.19,328.12 101.29,328.21 101.39,328.30 101.49,328.39 101.59,328.48 101.68,328.57 101.78,328.66 101.88,328.75 101.98,328.84 102.08,328.93 102.18,329.02 102.28,329.11 102.38,329.20 102.48,329.29 102.59,329.38 102.69,329.47 102.79,329.56 102.89,329.65 102.99,329.74 103.09,329.83 103.19,329.92 103.30,330.01 103.40,330.10 103.50,330.19 103.60,330.28 103.71,330.37 103.81,330.46 103.91,330.55 104.02,330.64 104.12,330.73 104.23,330.82 104.33,330.91 104.43,331.00 104.54,331.08 104.64,331.17 104.75,331.26 104.85,331.35 104.96,331.44 105.07,331.53 105.17,331.62 105.28,331.71 105.38,331.80 105.49,331.88 105.60,331.97 105.70,332.06 105.81,332.15 105.92,332.24 106.03,332.33 106.13,332.42 106.24,332.50 106.35,332.59 106.46,332.68 106.57,332.77 106.67,332.86 106.78,332.95 106.89,333.03 107.00,333.12 107.11,333.21 107.22,333.30 107.33,333.39 107.44,333.47 107.55,333.56 107.66,333.65 107.77,333.74 107.88,333.82 107.99,333.91 108.10,334.00 108.21,334.09 108.33,334.17 108.44,334.26 108.55,334.35 108.66,334.43 108.77,334.52 108.89,334.61 109.00,334.70 109.11,334.78 109.23,334.87 109.34,334.96 109.45,335.04 109.57,335.13 109.68,335.22 109.79,335.30 109.91,335.39 110.02,335.48 110.14,335.56 110.25,335.65 110.37,335.74 110.48,335.82 110.60,335.91 110.71,336.00 110.83,336.08 110.95,336.17 111.06,336.25 111.18,336.34 111.30,336.43 111.41,336.51 111.53,336.60 111.65,336.68 111.76,336.77 111.88,336.85 112.00,336.94 112.12,337.03 112.24,337.11 112.35,337.20 112.47,337.28 112.59,337.37 112.71,337.45 112.83,337.54 112.95,337.62 113.07,337.71 113.19,337.79 113.31,337.88 113.43,337.96 113.55,338.05 113.67,338.13 113.79,338.22 113.91,338.30 114.03,338.39 114.15,338.47 114.27,338.56 114.40,338.64 114.52,338.72 114.64,338.81 114.76,338.89 114.88,338.98 115.01,339.06 115.13,339.15 115.25,339.23 115.38,339.31 115.50,339.40 115.62,339.48 115.75,339.56 115.87,339.65 115.99,339.73 116.12,339.82 116.24,339.90 116.37,339.98 116.49,340.07 116.62,340.15 116.74,340.23 116.87,340.32 116.99,340.40 117.12,340.48 117.25,340.57 117.37,340.65 117.50,340.73 117.63,340.81 117.75,340.90 117.88,340.98 118.01,341.06 118.13,341.14 118.26,341.23 118.39,341.31 118.52,341.39 118.65,341.47 118.77,341.56 118.90,341.64 119.03,341.72 119.16,341.80 119.29,341.89 119.42,341.97 119.55,342.05 119.68,342.13 119.81,342.21 119.94,342.29 120.07,342.38 120.20,342.46 120.33,342.54 120.46,342.62 120.59,342.70 120.72,342.78 120.85,342.86 120.98,342.95 121.12,343.03 121.25,343.11 121.38,343.19 121.51,343.27 121.64,343.35 121.78,343.43 121.91,343.51 122.04,343.59 122.18,343.67 122.31,343.75 122.44,343.83 122.58,343.91 122.71,344.00 122.84,344.08 122.98,344.16 123.11,344.24 123.25,344.32 123.38,344.40 123.52,344.48 123.65,344.56 123.79,344.64 123.92,344.71 124.06,344.79 124.20,344.87 124.33,344.95 124.47,345.03 124.60,345.11 124.74,345.19 124.88,345.27 125.02,345.35 125.15,345.43 125.29,345.51 125.43,345.59 125.57,345.67 125.70,345.74 125.84,345.82 125.98,345.90 126.12,345.98 126.26,346.06 126.40,346.14 126.54,346.22 126.67,346.29 126.81,346.37 126.95,346.45 127.09,346.53 127.23,346.61 127.37,346.68 127.51,346.76 127.65,346.84 127.80,346.92 127.94,347.00 128.08,347.07 128.22,347.15 128.36,347.23 128.50,347.31 128.64,347.38 128.79,347.46 128.93,347.54 129.07,347.61 129.21,347.69 129.35,347.77 129.50,347.85 129.64,347.92 129.78,348.00 129.93,348.08 130.07,348.15 130.21,348.23 130.36,348.30 130.50,348.38 130.65,348.46 130.79,348.53 130.94,348.61 131.08,348.69 131.23,348.76 131.37,348.84 131.52,348.91 131.66,348.99 131.81,349.06 131.95,349.14 132.10,349.22 132.25,349.29 132.39,349.37 132.54,349.44 132.69,349.52 132.83,349.59 132.98,349.67 133.13,349.74 133.27,349.82 133.42,349.89 133.57,349.97 133.72,350.04 133.87,350.12 134.02,350.19 134.16,350.26 134.31,350.34 134.46,350.41 134.61,350.49 134.76,350.56 134.91,350.64 135.06,350.71 135.21,350.78 135.36,350.86 135.51,350.93 135.66,351.01 135.81,351.08 135.96,351.15 136.11,351.23 136.26,351.30 136.41,351.37 136.56,351.45 136.72,351.52 136.87,351.59 137.02,351.66 137.17,351.74 137.32,351.81 137.48,351.88 137.63,351.96 137.78,352.03 137.93,352.10 138.09,352.17 138.24,352.25 138.39,352.32 138.55,352.39 138.70,352.46 138.85,352.53 139.01,352.61 139.16,352.68 139.32,352.75 139.47,352.82 139.63,352.89 139.78,352.96 139.94,353.04 140.09,353.11 140.25,353.18 140.40,353.25 140.56,353.32 140.71,353.39 140.87,353.46 141.03,353.53 141.18,353.60 141.34,353.67 141.50,353.74 141.65,353.82 141.81,353.89 141.97,353.96 142.13,354.03 142.28,354.10 142.44,354.17 142.60,354.24 142.76,354.31 142.91,354.38 143.07,354.45 143.23,354.52 143.39,354.59 143.55,354.65 143.71,354.72 143.87,354.79 144.03,354.86 144.19,354.93 144.35,355.00 144.51,355.07 144.67,355.14 144.83,355.21 144.99,355.28 145.15,355.35 145.31,355.41 145.47,355.48 145.63,355.55 145.79,355.62 145.95,355.69 146.11,355.76 146.28,355.82 146.44,355.89 146.60,355.96 146.76,356.03 146.92,356.09 147.09,356.16 147.25,356.23 147.41,356.30 147.58,356.36 147.74,356.43 147.90,356.50 148.07,356.57 148.23,356.63 148.39,356.70 148.56,356.77 148.72,356.83 148.89,356.90 149.05,356.97 149.21,357.03 149.38,357.10 149.54,357.17 149.71,357.23 149.88,357.30 150.04,357.36 150.21,357.43 150.37,357.50 150.54,357.56 150.70,357.63 150.87,357.69 151.04,357.76" fill="url(#g6)" stroke="url(#g6)" stroke-width="1.0" stroke-linejoin="round"/><polygon points="270.72,226.05 148.59,314.90 147.03,314.31 145.48,313.72 143.95,313.11 142.43,312.50 140.92,311.89 139.43,311.26 137.96,310.63 136.50,309.99 135.05,309.35 133.62,308.70 132.21,308.04 130.81,307.38 129.42,306.71 128.05,306.03 126.70,305.35 125.36,304.66 124.04,303.96 122.74,303.26 121.45,302.56 120.17,301.84 118.92,301.13 117.68,300.40 116.45,299.67 115.24,298.94 114.05,298.20 112.88,297.46 111.72,296.71 110.58,295.95 109.45,295.19 108.35,294.43 107.26,293.66 106.18,292.89 105.13,292.11 104.09,291.33 103.07,290.54 102.06,289.75 101.08,288.96 100.11,288.16 99.16,287.36 98.22,286.55 97.31,285.74 96.41,284.93 95.53,284.11" fill="#E2B4B4" stroke="#E2B4B4" stroke-width="0.4" stroke-linejoin="round"/><polygon points="279.23,229.23 166.93,322.25 169.10,365.40 279.52,268.58" fill="#A47778" stroke="#A47778" stroke-width="1.0" stroke-linejoin="round"/><polygon points="166.93,322.25 166.91,322.24 166.88,322.24 166.86,322.23 166.83,322.22 166.81,322.21 166.79,322.20 166.76,322.20 166.74,322.19 166.71,322.18 166.69,322.17 166.67,322.16 166.64,322.16 166.62,322.15 166.59,322.14 166.57,322.13 166.55,322.13 166.52,322.12 166.50,322.11 166.47,322.10 166.45,322.09 166.43,322.09 166.40,322.08 166.38,322.07 166.35,322.06 166.33,322.05 166.31,322.05 166.28,322.04 166.26,322.03 166.24,322.02 166.21,322.01 166.19,322.01 166.16,322.00 166.14,321.99 166.12,321.98 166.09,321.97 166.07,321.97 166.04,321.96 166.02,321.95 166.00,321.94 165.97,321.93 165.95,321.93 165.92,321.92 165.90,321.91 165.88,321.90 165.85,321.90 165.83,321.89 165.81,321.88 165.78,321.87 165.76,321.86 165.73,321.86 165.71,321.85 165.69,321.84 165.66,321.83 165.64,321.82 165.61,321.82 165.59,321.81 165.57,321.80 165.54,321.79 165.52,321.78 165.50,321.78 165.47,321.77 165.45,321.76 165.42,321.75 165.40,321.74 165.38,321.74 165.35,321.73 165.33,321.72 165.31,321.71 165.28,321.70 165.26,321.70 165.23,321.69 165.21,321.68 165.19,321.67 165.16,321.66 165.14,321.66 165.11,321.65 165.09,321.64 165.07,321.63 165.04,321.62 165.02,321.62 165.00,321.61 164.97,321.60 164.95,321.59 164.92,321.58 164.90,321.58 164.88,321.57 164.85,321.56 164.83,321.55 164.81,321.54 164.78,321.54 164.76,321.53 164.73,321.52 164.71,321.51 164.69,321.50 164.66,321.49 164.64,321.49 164.62,321.48 164.59,321.47 164.57,321.46 164.55,321.45 164.52,321.45 164.50,321.44 164.47,321.43 164.45,321.42 164.43,321.41 164.40,321.41 164.38,321.40 164.36,321.39 164.33,321.38 164.31,321.37 164.28,321.37 164.26,321.36 164.24,321.35 164.21,321.34 164.19,321.33 164.17,321.33 164.14,321.32 164.12,321.31 164.10,321.30 164.07,321.29 164.05,321.29 164.02,321.28 164.00,321.27 163.98,321.26 163.95,321.25 163.93,321.24 163.91,321.24 163.88,321.23 163.86,321.22 163.84,321.21 163.81,321.20 163.79,321.20 163.76,321.19 163.74,321.18 163.72,321.17 163.69,321.16 163.67,321.16 163.65,321.15 163.62,321.14 163.60,321.13 163.58,321.12 163.55,321.12 163.53,321.11 163.50,321.10 163.48,321.09 163.46,321.08 163.43,321.07 163.41,321.07 163.39,321.06 163.36,321.05 163.34,321.04 163.32,321.03 163.29,321.03 163.27,321.02 163.25,321.01 163.22,321.00 163.20,320.99 163.17,320.98 163.15,320.98 163.13,320.97 163.10,320.96 163.08,320.95 163.06,320.94 163.03,320.94 163.01,320.93 162.99,320.92 162.96,320.91 162.94,320.90 162.92,320.90 162.89,320.89 162.87,320.88 162.85,320.87 162.82,320.86 162.80,320.85 162.78,320.85 162.75,320.84 162.73,320.83 162.70,320.82 162.68,320.81 162.66,320.81 162.63,320.80 162.61,320.79 162.59,320.78 162.56,320.77 162.54,320.76 162.52,320.76 162.49,320.75 162.47,320.74 162.45,320.73 162.42,320.72 162.40,320.72 162.38,320.71 162.35,320.70 162.33,320.69 162.31,320.68 162.28,320.67 162.26,320.67 162.24,320.66 162.21,320.65 162.19,320.64 162.17,320.63 162.14,320.62 162.12,320.62 162.09,320.61 162.07,320.60 162.05,320.59 162.02,320.58 162.00,320.58 161.98,320.57 161.95,320.56 161.93,320.55 161.91,320.54 161.88,320.53 161.86,320.53 161.84,320.52 161.81,320.51 161.79,320.50 161.77,320.49 161.74,320.48 161.72,320.48 161.70,320.47 161.67,320.46 161.65,320.45 161.63,320.44 161.60,320.44 161.58,320.43 161.56,320.42 161.53,320.41 161.51,320.40 161.49,320.39 161.46,320.39 161.44,320.38 161.42,320.37 161.39,320.36 161.37,320.35 161.35,320.34 161.32,320.34 161.30,320.33 161.28,320.32 161.25,320.31 161.23,320.30 161.21,320.29 161.18,320.29 161.16,320.28 161.14,320.27 161.11,320.26 161.09,320.25 161.07,320.25 161.04,320.24 161.02,320.23 161.00,320.22 160.97,320.21 160.95,320.20 160.93,320.20 160.90,320.19 160.88,320.18 160.86,320.17 160.83,320.16 160.81,320.15 160.79,320.15 160.76,320.14 160.74,320.13 160.72,320.12 160.69,320.11 160.67,320.10 160.65,320.10 160.63,320.09 160.60,320.08 160.58,320.07 160.56,320.06 160.53,320.05 160.51,320.05 160.49,320.04 160.46,320.03 160.44,320.02 160.42,320.01 160.39,320.00 160.37,320.00 160.35,319.99 160.32,319.98 160.30,319.97 160.28,319.96 160.25,319.95 160.23,319.95 160.21,319.94 160.18,319.93 160.16,319.92 160.14,319.91 160.11,319.90 160.09,319.90 160.07,319.89 160.04,319.88 160.02,319.87 160.00,319.86 159.98,319.85 159.95,319.85 159.93,319.84 159.91,319.83 159.88,319.82 159.86,319.81 159.84,319.80 159.81,319.79 159.79,319.79 159.77,319.78 159.74,319.77 159.72,319.76 159.70,319.75 159.67,319.74 159.65,319.74 159.63,319.73 159.61,319.72 159.58,319.71 159.56,319.70 159.54,319.69 159.51,319.69 159.49,319.68 159.47,319.67 159.44,319.66 159.42,319.65 159.40,319.64 159.37,319.64 159.35,319.63 159.33,319.62 159.30,319.61 159.28,319.60 159.26,319.59 159.24,319.59 159.21,319.58 159.19,319.57 159.17,319.56 159.14,319.55 159.12,319.54 159.10,319.53 159.07,319.53 159.05,319.52 159.03,319.51 159.01,319.50 158.98,319.49 158.96,319.48 158.94,319.48 158.91,319.47 158.89,319.46 158.87,319.45 158.84,319.44 158.82,319.43 158.80,319.42 158.77,319.42 158.75,319.41 158.73,319.40 158.71,319.39 158.68,319.38 158.66,319.37 158.64,319.37 158.61,319.36 158.59,319.35 158.57,319.34 158.54,319.33 158.52,319.32 158.50,319.31 158.48,319.31 158.45,319.30 158.43,319.29 158.41,319.28 158.38,319.27 158.36,319.26 158.34,319.26 158.32,319.25 158.29,319.24 158.27,319.23 158.25,319.22 158.22,319.21 158.20,319.20 158.18,319.20 158.15,319.19 158.13,319.18 158.11,319.17 158.09,319.16 158.06,319.15 158.04,319.15 158.02,319.14 157.99,319.13 157.97,319.12 157.95,319.11 157.93,319.10 157.90,319.09 157.88,319.09 157.86,319.08 157.83,319.07 157.81,319.06 157.79,319.05 157.77,319.04 157.74,319.03 157.72,319.03 157.70,319.02 157.67,319.01 157.65,319.00 157.63,318.99 157.60,318.98 157.58,318.97 159.90,361.99 159.92,362.00 159.94,362.01 159.96,362.02 159.99,362.03 160.01,362.04 160.03,362.05 160.05,362.05 160.08,362.06 160.10,362.07 160.12,362.08 160.14,362.09 160.17,362.10 160.19,362.11 160.21,362.12 160.23,362.12 160.26,362.13 160.28,362.14 160.30,362.15 160.32,362.16 160.35,362.17 160.37,362.18 160.39,362.19 160.41,362.20 160.44,362.20 160.46,362.21 160.48,362.22 160.50,362.23 160.53,362.24 160.55,362.25 160.57,362.26 160.60,362.27 160.62,362.27 160.64,362.28 160.66,362.29 160.69,362.30 160.71,362.31 160.73,362.32 160.75,362.33 160.78,362.34 160.80,362.35 160.82,362.35 160.84,362.36 160.87,362.37 160.89,362.38 160.91,362.39 160.93,362.40 160.96,362.41 160.98,362.42 161.00,362.42 161.03,362.43 161.05,362.44 161.07,362.45 161.09,362.46 161.12,362.47 161.14,362.48 161.16,362.49 161.18,362.49 161.21,362.50 161.23,362.51 161.25,362.52 161.27,362.53 161.30,362.54 161.32,362.55 161.34,362.56 161.37,362.56 161.39,362.57 161.41,362.58 161.43,362.59 161.46,362.60 161.48,362.61 161.50,362.62 161.52,362.63 161.55,362.63 161.57,362.64 161.59,362.65 161.62,362.66 161.64,362.67 161.66,362.68 161.68,362.69 161.71,362.70 161.73,362.70 161.75,362.71 161.77,362.72 161.80,362.73 161.82,362.74 161.84,362.75 161.87,362.76 161.89,362.77 161.91,362.77 161.93,362.78 161.96,362.79 161.98,362.80 162.00,362.81 162.02,362.82 162.05,362.83 162.07,362.84 162.09,362.84 162.12,362.85 162.14,362.86 162.16,362.87 162.18,362.88 162.21,362.89 162.23,362.90 162.25,362.90 162.28,362.91 162.30,362.92 162.32,362.93 162.34,362.94 162.37,362.95 162.39,362.96 162.41,362.97 162.44,362.97 162.46,362.98 162.48,362.99 162.50,363.00 162.53,363.01 162.55,363.02 162.57,363.03 162.60,363.04 162.62,363.04 162.64,363.05 162.66,363.06 162.69,363.07 162.71,363.08 162.73,363.09 162.76,363.10 162.78,363.10 162.80,363.11 162.82,363.12 162.85,363.13 162.87,363.14 162.89,363.15 162.92,363.16 162.94,363.16 162.96,363.17 162.98,363.18 163.01,363.19 163.03,363.20 163.05,363.21 163.08,363.22 163.10,363.23 163.12,363.23 163.14,363.24 163.17,363.25 163.19,363.26 163.21,363.27 163.24,363.28 163.26,363.29 163.28,363.29 163.30,363.30 163.33,363.31 163.35,363.32 163.37,363.33 163.40,363.34 163.42,363.35 163.44,363.35 163.47,363.36 163.49,363.37 163.51,363.38 163.53,363.39 163.56,363.40 163.58,363.41 163.60,363.41 163.63,363.42 163.65,363.43 163.67,363.44 163.69,363.45 163.72,363.46 163.74,363.47 163.76,363.48 163.79,363.48 163.81,363.49 163.83,363.50 163.86,363.51 163.88,363.52 163.90,363.53 163.92,363.54 163.95,363.54 163.97,363.55 163.99,363.56 164.02,363.57 164.04,363.58 164.06,363.59 164.09,363.60 164.11,363.60 164.13,363.61 164.16,363.62 164.18,363.63 164.20,363.64 164.22,363.65 164.25,363.65 164.27,363.66 164.29,363.67 164.32,363.68 164.34,363.69 164.36,363.70 164.39,363.71 164.41,363.71 164.43,363.72 164.45,363.73 164.48,363.74 164.50,363.75 164.52,363.76 164.55,363.77 164.57,363.77 164.59,363.78 164.62,363.79 164.64,363.80 164.66,363.81 164.69,363.82 164.71,363.83 164.73,363.83 164.75,363.84 164.78,363.85 164.80,363.86 164.82,363.87 164.85,363.88 164.87,363.89 164.89,363.89 164.92,363.90 164.94,363.91 164.96,363.92 164.99,363.93 165.01,363.94 165.03,363.94 165.06,363.95 165.08,363.96 165.10,363.97 165.13,363.98 165.15,363.99 165.17,364.00 165.19,364.00 165.22,364.01 165.24,364.02 165.26,364.03 165.29,364.04 165.31,364.05 165.33,364.05 165.36,364.06 165.38,364.07 165.40,364.08 165.43,364.09 165.45,364.10 165.47,364.11 165.50,364.11 165.52,364.12 165.54,364.13 165.57,364.14 165.59,364.15 165.61,364.16 165.63,364.16 165.66,364.17 165.68,364.18 165.70,364.19 165.73,364.20 165.75,364.21 165.77,364.22 165.80,364.22 165.82,364.23 165.84,364.24 165.87,364.25 165.89,364.26 165.91,364.27 165.94,364.27 165.96,364.28 165.98,364.29 166.01,364.30 166.03,364.31 166.05,364.32 166.08,364.32 166.10,364.33 166.12,364.34 166.15,364.35 166.17,364.36 166.19,364.37 166.22,364.38 166.24,364.38 166.26,364.39 166.29,364.40 166.31,364.41 166.33,364.42 166.36,364.43 166.38,364.43 166.40,364.44 166.43,364.45 166.45,364.46 166.47,364.47 166.50,364.48 166.52,364.48 166.54,364.49 166.57,364.50 166.59,364.51 166.61,364.52 166.64,364.53 166.66,364.53 166.68,364.54 166.71,364.55 166.73,364.56 166.75,364.57 166.78,364.58 166.80,364.58 166.82,364.59 166.85,364.60 166.87,364.61 166.89,364.62 166.92,364.63 166.94,364.64 166.96,364.64 166.99,364.65 167.01,364.66 167.03,364.67 167.06,364.68 167.08,364.69 167.10,364.69 167.13,364.70 167.15,364.71 167.17,364.72 167.20,364.73 167.22,364.74 167.24,364.74 167.27,364.75 167.29,364.76 167.31,364.77 167.34,364.78 167.36,364.79 167.38,364.79 167.41,364.80 167.43,364.81 167.45,364.82 167.48,364.83 167.50,364.84 167.52,364.84 167.55,364.85 167.57,364.86 167.59,364.87 167.62,364.88 167.64,364.88 167.66,364.89 167.69,364.90 167.71,364.91 167.73,364.92 167.76,364.93 167.78,364.93 167.81,364.94 167.83,364.95 167.85,364.96 167.88,364.97 167.90,364.98 167.92,364.98 167.95,364.99 167.97,365.00 167.99,365.01 168.02,365.02 168.04,365.03 168.06,365.03 168.09,365.04 168.11,365.05 168.13,365.06 168.16,365.07 168.18,365.08 168.20,365.08 168.23,365.09 168.25,365.10 168.27,365.11 168.30,365.12 168.32,365.12 168.35,365.13 168.37,365.14 168.39,365.15 168.42,365.16 168.44,365.17 168.46,365.17 168.49,365.18 168.51,365.19 168.53,365.20 168.56,365.21 168.58,365.22 168.60,365.22 168.63,365.23 168.65,365.24 168.67,365.25 168.70,365.26 168.72,365.26 168.75,365.27 168.77,365.28 168.79,365.29 168.82,365.30 168.84,365.31 168.86,365.31 168.89,365.32 168.91,365.33 168.93,365.34 168.96,365.35 168.98,365.36 169.00,365.36 169.03,365.37 169.05,365.38 169.08,365.39 169.10,365.40" fill="url(#g5)" stroke="url(#g5)" stroke-width="1.0" stroke-linejoin="round"/><polygon points="279.23,229.23 166.93,322.25 165.02,321.62 163.14,320.97 161.27,320.32 159.42,319.65 157.58,318.97" fill="#D99694" stroke="#D99694" stroke-width="0.4" stroke-linejoin="round"/><polygon points="283.98,230.45 204.80,332.50 206.37,376.04 284.20,269.85" fill="#7D2B2B" stroke="#7D2B2B" stroke-width="1.0" stroke-linejoin="round"/><polygon points="204.80,332.50 204.72,332.48 204.63,332.46 204.54,332.45 204.46,332.43 204.37,332.41 204.29,332.39 204.20,332.37 204.11,332.36 204.03,332.34 203.94,332.32 203.85,332.30 203.77,332.28 203.68,332.26 203.59,332.25 203.51,332.23 203.42,332.21 203.34,332.19 203.25,332.17 203.16,332.15 203.08,332.14 202.99,332.12 202.91,332.10 202.82,332.08 202.73,332.06 202.65,332.04 202.56,332.03 202.48,332.01 202.39,331.99 202.30,331.97 202.22,331.95 202.13,331.93 202.05,331.92 201.96,331.90 201.88,331.88 201.79,331.86 201.70,331.84 201.62,331.82 201.53,331.80 201.45,331.78 201.36,331.77 201.28,331.75 201.19,331.73 201.10,331.71 201.02,331.69 200.93,331.67 200.85,331.65 200.76,331.63 200.68,331.62 200.59,331.60 200.51,331.58 200.42,331.56 200.33,331.54 200.25,331.52 200.16,331.50 200.08,331.48 199.99,331.46 199.91,331.45 199.82,331.43 199.74,331.41 199.65,331.39 199.57,331.37 199.48,331.35 199.40,331.33 199.31,331.31 199.23,331.29 199.14,331.27 199.06,331.25 198.97,331.23 198.89,331.22 198.80,331.20 198.72,331.18 198.63,331.16 198.55,331.14 198.46,331.12 198.38,331.10 198.29,331.08 198.21,331.06 198.12,331.04 198.04,331.02 197.95,331.00 197.87,330.98 197.78,330.96 197.70,330.94 197.61,330.92 197.53,330.90 197.44,330.88 197.36,330.87 197.27,330.85 197.19,330.83 197.11,330.81 197.02,330.79 196.94,330.77 196.85,330.75 196.77,330.73 196.68,330.71 196.60,330.69 196.51,330.67 196.43,330.65 196.34,330.63 196.26,330.61 196.18,330.59 196.09,330.57 196.01,330.55 195.92,330.53 195.84,330.51 195.75,330.49 195.67,330.47 195.59,330.45 195.50,330.43 195.42,330.41 195.33,330.39 195.25,330.37 195.17,330.35 195.08,330.33 195.00,330.31 194.91,330.29 194.83,330.27 194.75,330.25 194.66,330.23 194.58,330.21 194.49,330.19 194.41,330.17 194.33,330.15 194.24,330.13 194.16,330.11 194.07,330.08 193.99,330.06 193.91,330.04 193.82,330.02 193.74,330.00 193.66,329.98 193.57,329.96 193.49,329.94 193.40,329.92 193.32,329.90 193.24,329.88 193.15,329.86 193.07,329.84 192.99,329.82 192.90,329.80 192.82,329.78 192.74,329.76 192.65,329.74 192.57,329.71 192.49,329.69 192.40,329.67 192.32,329.65 192.24,329.63 192.15,329.61 192.07,329.59 191.99,329.57 191.90,329.55 191.82,329.53 191.74,329.51 191.65,329.49 191.57,329.46 191.49,329.44 191.40,329.42 191.32,329.40 191.24,329.38 191.16,329.36 191.07,329.34 190.99,329.32 190.91,329.30 190.82,329.28 190.74,329.25 190.66,329.23 190.58,329.21 190.49,329.19 190.41,329.17 190.33,329.15 190.24,329.13 190.16,329.11 190.08,329.08 190.00,329.06 189.91,329.04 189.83,329.02 189.75,329.00 189.67,328.98 189.58,328.96 189.50,328.94 189.42,328.91 189.34,328.89 189.25,328.87 189.17,328.85 189.09,328.83 189.01,328.81 188.92,328.79 188.84,328.76 188.76,328.74 188.68,328.72 188.59,328.70 188.51,328.68 188.43,328.66 188.35,328.63 188.27,328.61 188.18,328.59 188.10,328.57 188.02,328.55 187.94,328.53 187.86,328.50 187.77,328.48 187.69,328.46 187.61,328.44 187.53,328.42 187.45,328.39 187.36,328.37 187.28,328.35 187.20,328.33 187.12,328.31 187.04,328.28 186.95,328.26 186.87,328.24 186.79,328.22 186.71,328.20 186.63,328.17 186.55,328.15 186.46,328.13 186.38,328.11 186.30,328.09 186.22,328.06 186.14,328.04 186.06,328.02 185.97,328.00 185.89,327.98 185.81,327.95 185.73,327.93 185.65,327.91 185.57,327.89 185.49,327.86 185.40,327.84 185.32,327.82 185.24,327.80 185.16,327.77 185.08,327.75 185.00,327.73 184.92,327.71 184.84,327.68 184.76,327.66 184.67,327.64 184.59,327.62 184.51,327.59 184.43,327.57 184.35,327.55 184.27,327.53 184.19,327.50 184.11,327.48 184.03,327.46 183.95,327.44 183.86,327.41 183.78,327.39 183.70,327.37 183.62,327.35 183.54,327.32 183.46,327.30 183.38,327.28 183.30,327.25 183.22,327.23 183.14,327.21 183.06,327.19 182.98,327.16 182.90,327.14 182.82,327.12 182.73,327.09 182.65,327.07 182.57,327.05 182.49,327.03 182.41,327.00 182.33,326.98 182.25,326.96 182.17,326.93 182.09,326.91 182.01,326.89 181.93,326.86 181.85,326.84 181.77,326.82 181.69,326.79 181.61,326.77 181.53,326.75 181.45,326.73 181.37,326.70 181.29,326.68 181.21,326.66 181.13,326.63 181.05,326.61 180.97,326.59 180.89,326.56 180.81,326.54 180.73,326.52 180.65,326.49 180.57,326.47 180.49,326.45 180.41,326.42 180.33,326.40 180.25,326.37 180.17,326.35 180.09,326.33 180.01,326.30 179.93,326.28 179.85,326.26 179.77,326.23 179.69,326.21 179.61,326.19 179.54,326.16 179.46,326.14 179.38,326.12 179.30,326.09 179.22,326.07 179.14,326.04 179.06,326.02 178.98,326.00 178.90,325.97 178.82,325.95 178.74,325.93 178.66,325.90 178.58,325.88 178.50,325.85 178.43,325.83 178.35,325.81 178.27,325.78 178.19,325.76 178.11,325.73 178.03,325.71 177.95,325.69 177.87,325.66 177.79,325.64 177.71,325.61 177.64,325.59 177.56,325.57 177.48,325.54 177.40,325.52 177.32,325.49 177.24,325.47 177.16,325.44 177.08,325.42 177.01,325.40 176.93,325.37 176.85,325.35 176.77,325.32 176.69,325.30 176.61,325.28 176.53,325.25 176.46,325.23 176.38,325.20 176.30,325.18 176.22,325.15 176.14,325.13 176.06,325.10 175.99,325.08 175.91,325.06 175.83,325.03 175.75,325.01 175.67,324.98 175.59,324.96 175.52,324.93 175.44,324.91 175.36,324.88 175.28,324.86 175.20,324.83 175.13,324.81 175.05,324.79 174.97,324.76 174.89,324.74 174.81,324.71 174.74,324.69 174.66,324.66 174.58,324.64 174.50,324.61 174.42,324.59 174.35,324.56 174.27,324.54 174.19,324.51 174.11,324.49 174.04,324.46 173.96,324.44 173.88,324.41 173.80,324.39 173.73,324.36 173.65,324.34 173.57,324.31 173.49,324.29 173.42,324.26 173.34,324.24 173.26,324.21 173.18,324.19 173.11,324.16 173.03,324.14 172.95,324.11 172.88,324.09 172.80,324.06 172.72,324.04 172.64,324.01 172.57,323.99 172.49,323.96 172.41,323.94 172.34,323.91 172.26,323.89 172.18,323.86 172.10,323.84 174.19,367.04 174.27,367.07 174.35,367.09 174.42,367.12 174.50,367.15 174.57,367.17 174.65,367.20 174.72,367.23 174.80,367.25 174.88,367.28 174.95,367.30 175.03,367.33 175.10,367.36 175.18,367.38 175.26,367.41 175.33,367.43 175.41,367.46 175.48,367.49 175.56,367.51 175.64,367.54 175.71,367.56 175.79,367.59 175.87,367.62 175.94,367.64 176.02,367.67 176.10,367.69 176.17,367.72 176.25,367.75 176.32,367.77 176.40,367.80 176.48,367.82 176.55,367.85 176.63,367.87 176.71,367.90 176.78,367.93 176.86,367.95 176.94,367.98 177.01,368.00 177.09,368.03 177.17,368.05 177.24,368.08 177.32,368.10 177.40,368.13 177.48,368.16 177.55,368.18 177.63,368.21 177.71,368.23 177.78,368.26 177.86,368.28 177.94,368.31 178.01,368.33 178.09,368.36 178.17,368.38 178.25,368.41 178.32,368.44 178.40,368.46 178.48,368.49 178.55,368.51 178.63,368.54 178.71,368.56 178.79,368.59 178.86,368.61 178.94,368.64 179.02,368.66 179.10,368.69 179.17,368.71 179.25,368.74 179.33,368.76 179.41,368.79 179.48,368.81 179.56,368.84 179.64,368.86 179.72,368.89 179.79,368.91 179.87,368.94 179.95,368.96 180.03,368.99 180.10,369.01 180.18,369.04 180.26,369.06 180.34,369.09 180.42,369.11 180.49,369.14 180.57,369.16 180.65,369.19 180.73,369.21 180.81,369.24 180.88,369.26 180.96,369.29 181.04,369.31 181.12,369.33 181.20,369.36 181.27,369.38 181.35,369.41 181.43,369.43 181.51,369.46 181.59,369.48 181.66,369.51 181.74,369.53 181.82,369.56 181.90,369.58 181.98,369.61 182.06,369.63 182.13,369.65 182.21,369.68 182.29,369.70 182.37,369.73 182.45,369.75 182.53,369.78 182.61,369.80 182.68,369.82 182.76,369.85 182.84,369.87 182.92,369.90 183.00,369.92 183.08,369.95 183.16,369.97 183.23,369.99 183.31,370.02 183.39,370.04 183.47,370.07 183.55,370.09 183.63,370.11 183.71,370.14 183.79,370.16 183.87,370.19 183.94,370.21 184.02,370.23 184.10,370.26 184.18,370.28 184.26,370.31 184.34,370.33 184.42,370.35 184.50,370.38 184.58,370.40 184.66,370.43 184.74,370.45 184.82,370.47 184.89,370.50 184.97,370.52 185.05,370.54 185.13,370.57 185.21,370.59 185.29,370.62 185.37,370.64 185.45,370.66 185.53,370.69 185.61,370.71 185.69,370.73 185.77,370.76 185.85,370.78 185.93,370.80 186.01,370.83 186.09,370.85 186.17,370.88 186.25,370.90 186.33,370.92 186.41,370.95 186.49,370.97 186.57,370.99 186.64,371.02 186.72,371.04 186.80,371.06 186.88,371.09 186.96,371.11 187.04,371.13 187.12,371.16 187.20,371.18 187.28,371.20 187.36,371.22 187.44,371.25 187.52,371.27 187.60,371.29 187.68,371.32 187.76,371.34 187.85,371.36 187.93,371.39 188.01,371.41 188.09,371.43 188.17,371.46 188.25,371.48 188.33,371.50 188.41,371.52 188.49,371.55 188.57,371.57 188.65,371.59 188.73,371.62 188.81,371.64 188.89,371.66 188.97,371.68 189.05,371.71 189.13,371.73 189.21,371.75 189.29,371.78 189.37,371.80 189.45,371.82 189.53,371.84 189.62,371.87 189.70,371.89 189.78,371.91 189.86,371.93 189.94,371.96 190.02,371.98 190.10,372.00 190.18,372.02 190.26,372.05 190.34,372.07 190.42,372.09 190.50,372.11 190.59,372.14 190.67,372.16 190.75,372.18 190.83,372.20 190.91,372.23 190.99,372.25 191.07,372.27 191.15,372.29 191.23,372.32 191.32,372.34 191.40,372.36 191.48,372.38 191.56,372.40 191.64,372.43 191.72,372.45 191.80,372.47 191.88,372.49 191.97,372.51 192.05,372.54 192.13,372.56 192.21,372.58 192.29,372.60 192.37,372.63 192.45,372.65 192.54,372.67 192.62,372.69 192.70,372.71 192.78,372.73 192.86,372.76 192.94,372.78 193.03,372.80 193.11,372.82 193.19,372.84 193.27,372.87 193.35,372.89 193.43,372.91 193.52,372.93 193.60,372.95 193.68,372.97 193.76,373.00 193.84,373.02 193.93,373.04 194.01,373.06 194.09,373.08 194.17,373.10 194.25,373.13 194.33,373.15 194.42,373.17 194.50,373.19 194.58,373.21 194.66,373.23 194.75,373.25 194.83,373.28 194.91,373.30 194.99,373.32 195.07,373.34 195.16,373.36 195.24,373.38 195.32,373.40 195.40,373.43 195.49,373.45 195.57,373.47 195.65,373.49 195.73,373.51 195.82,373.53 195.90,373.55 195.98,373.57 196.06,373.59 196.15,373.62 196.23,373.64 196.31,373.66 196.39,373.68 196.48,373.70 196.56,373.72 196.64,373.74 196.72,373.76 196.81,373.78 196.89,373.80 196.97,373.83 197.05,373.85 197.14,373.87 197.22,373.89 197.30,373.91 197.39,373.93 197.47,373.95 197.55,373.97 197.63,373.99 197.72,374.01 197.80,374.03 197.88,374.05 197.97,374.07 198.05,374.10 198.13,374.12 198.22,374.14 198.30,374.16 198.38,374.18 198.46,374.20 198.55,374.22 198.63,374.24 198.71,374.26 198.80,374.28 198.88,374.30 198.96,374.32 199.05,374.34 199.13,374.36 199.21,374.38 199.30,374.40 199.38,374.42 199.46,374.44 199.55,374.46 199.63,374.48 199.71,374.50 199.80,374.52 199.88,374.54 199.96,374.56 200.05,374.58 200.13,374.60 200.22,374.62 200.30,374.64 200.38,374.66 200.47,374.68 200.55,374.70 200.63,374.72 200.72,374.74 200.80,374.76 200.88,374.78 200.97,374.80 201.05,374.82 201.14,374.84 201.22,374.86 201.30,374.88 201.39,374.90 201.47,374.92 201.56,374.94 201.64,374.96 201.72,374.98 201.81,375.00 201.89,375.02 201.97,375.04 202.06,375.06 202.14,375.08 202.23,375.10 202.31,375.12 202.40,375.14 202.48,375.16 202.56,375.18 202.65,375.20 202.73,375.22 202.82,375.24 202.90,375.26 202.98,375.28 203.07,375.30 203.15,375.32 203.24,375.34 203.32,375.35 203.41,375.37 203.49,375.39 203.57,375.41 203.66,375.43 203.74,375.45 203.83,375.47 203.91,375.49 204.00,375.51 204.08,375.53 204.17,375.55 204.25,375.57 204.34,375.59 204.42,375.60 204.50,375.62 204.59,375.64 204.67,375.66 204.76,375.68 204.84,375.70 204.93,375.72 205.01,375.74 205.10,375.76 205.18,375.78 205.27,375.79 205.35,375.81 205.44,375.83 205.52,375.85 205.61,375.87 205.69,375.89 205.78,375.91 205.86,375.93 205.95,375.94 206.03,375.96 206.12,375.98 206.20,376.00 206.29,376.02 206.37,376.04" fill="url(#g4)" stroke="url(#g4)" stroke-width="1.0" stroke-linejoin="round"/><polygon points="283.98,230.45 204.80,332.50 202.89,332.10 200.99,331.68 199.10,331.26 197.22,330.83 195.35,330.39 193.49,329.94 191.64,329.48 189.80,329.01 187.98,328.54 186.16,328.05 184.36,327.55 182.57,327.05 180.80,326.53 179.03,326.01 177.28,325.48 175.54,324.94 173.82,324.39 172.10,323.84" fill="#9C3737" stroke="#9C3737" stroke-width="0.4" stroke-linejoin="round"/><polygon points="290.70,231.68 238.92,338.56 239.92,382.33 290.82,271.13" fill="#652121" stroke="#652121" stroke-width="1.0" stroke-linejoin="round"/><polygon points="238.92,338.56 238.85,338.55 238.78,338.55 238.71,338.54 238.64,338.53 238.58,338.52 238.51,338.51 238.44,338.50 238.37,338.49 238.30,338.48 238.23,338.48 238.17,338.47 238.10,338.46 238.03,338.45 237.96,338.44 237.89,338.43 237.83,338.42 237.76,338.41 237.69,338.40 237.62,338.39 237.55,338.39 237.49,338.38 237.42,338.37 237.35,338.36 237.28,338.35 237.21,338.34 237.14,338.33 237.08,338.32 237.01,338.31 236.94,338.30 236.87,338.29 236.80,338.28 236.74,338.28 236.67,338.27 236.60,338.26 236.53,338.25 236.46,338.24 236.40,338.23 236.33,338.22 236.26,338.21 236.19,338.20 236.12,338.19 236.06,338.18 235.99,338.17 235.92,338.16 235.85,338.15 235.79,338.15 235.72,338.14 235.65,338.13 235.58,338.12 235.51,338.11 235.45,338.10 235.38,338.09 235.31,338.08 235.24,338.07 235.17,338.06 235.11,338.05 235.04,338.04 234.97,338.03 234.90,338.02 234.84,338.01 234.77,338.00 234.70,337.99 234.63,337.98 234.56,337.98 234.50,337.97 234.43,337.96 234.36,337.95 234.29,337.94 234.23,337.93 234.16,337.92 234.09,337.91 234.02,337.90 233.95,337.89 233.89,337.88 233.82,337.87 233.75,337.86 233.68,337.85 233.62,337.84 233.55,337.83 233.48,337.82 233.41,337.81 233.35,337.80 233.28,337.79 233.21,337.78 233.14,337.77 233.08,337.76 233.01,337.75 232.94,337.74 232.87,337.73 232.81,337.72 232.74,337.71 232.67,337.70 232.60,337.69 232.54,337.68 232.47,337.67 232.40,337.66 232.33,337.65 232.27,337.64 232.20,337.63 232.13,337.62 232.06,337.61 232.00,337.60 231.93,337.59 231.86,337.58 231.79,337.57 231.73,337.56 231.66,337.55 231.59,337.54 231.52,337.53 231.46,337.52 231.39,337.51 231.32,337.50 231.25,337.49 231.19,337.48 231.12,337.47 231.05,337.46 230.98,337.45 230.92,337.44 230.85,337.43 230.78,337.42 230.72,337.41 230.65,337.40 230.58,337.39 230.51,337.38 230.45,337.37 230.38,337.36 230.31,337.35 230.24,337.34 230.18,337.33 230.11,337.32 230.04,337.31 229.98,337.30 229.91,337.29 229.84,337.28 229.77,337.27 229.71,337.26 229.64,337.25 229.57,337.23 229.51,337.22 229.44,337.21 229.37,337.20 229.30,337.19 229.24,337.18 229.17,337.17 229.10,337.16 229.04,337.15 228.97,337.14 228.90,337.13 228.83,337.12 228.77,337.11 228.70,337.10 228.63,337.09 228.57,337.08 228.50,337.07 228.43,337.06 228.37,337.04 228.30,337.03 228.23,337.02 228.16,337.01 228.10,337.00 228.03,336.99 227.96,336.98 227.90,336.97 227.83,336.96 227.76,336.95 227.70,336.94 227.63,336.93 227.56,336.92 227.50,336.91 227.43,336.89 227.36,336.88 227.30,336.87 227.23,336.86 227.16,336.85 227.09,336.84 227.03,336.83 226.96,336.82 226.89,336.81 226.83,336.80 226.76,336.79 226.69,336.78 226.63,336.76 226.56,336.75 226.49,336.74 226.43,336.73 226.36,336.72 226.29,336.71 226.23,336.70 226.16,336.69 226.09,336.68 226.03,336.67 225.96,336.65 225.89,336.64 225.83,336.63 225.76,336.62 225.69,336.61 225.63,336.60 225.56,336.59 225.49,336.58 225.43,336.57 225.36,336.55 225.29,336.54 225.23,336.53 225.16,336.52 225.09,336.51 225.03,336.50 224.96,336.49 224.89,336.48 224.83,336.46 224.76,336.45 224.70,336.44 224.63,336.43 224.56,336.42 224.50,336.41 224.43,336.40 224.36,336.39 224.30,336.37 224.23,336.36 224.16,336.35 224.10,336.34 224.03,336.33 223.96,336.32 223.90,336.31 223.83,336.29 223.77,336.28 223.70,336.27 223.63,336.26 223.57,336.25 223.50,336.24 223.43,336.23 223.37,336.21 223.30,336.20 223.23,336.19 223.17,336.18 223.10,336.17 223.04,336.16 222.97,336.15 222.90,336.13 222.84,336.12 222.77,336.11 222.71,336.10 222.64,336.09 222.57,336.08 222.51,336.06 222.44,336.05 222.37,336.04 222.31,336.03 222.24,336.02 222.18,336.01 222.11,335.99 222.04,335.98 221.98,335.97 221.91,335.96 221.85,335.95 221.78,335.93 221.71,335.92 221.65,335.91 221.58,335.90 221.51,335.89 221.45,335.88 221.38,335.86 221.32,335.85 221.25,335.84 221.18,335.83 221.12,335.82 221.05,335.80 220.99,335.79 220.92,335.78 220.86,335.77 220.79,335.76 220.72,335.74 220.66,335.73 220.59,335.72 220.53,335.71 220.46,335.70 220.39,335.68 220.33,335.67 220.26,335.66 220.20,335.65 220.13,335.64 220.06,335.62 220.00,335.61 219.93,335.60 219.87,335.59 219.80,335.58 219.74,335.56 219.67,335.55 219.60,335.54 219.54,335.53 219.47,335.52 219.41,335.50 219.34,335.49 219.28,335.48 219.21,335.47 219.14,335.45 219.08,335.44 219.01,335.43 218.95,335.42 218.88,335.41 218.82,335.39 218.75,335.38 218.69,335.37 218.62,335.36 218.55,335.34 218.49,335.33 218.42,335.32 218.36,335.31 218.29,335.29 218.23,335.28 218.16,335.27 218.10,335.26 218.03,335.25 217.96,335.23 217.90,335.22 217.83,335.21 217.77,335.20 217.70,335.18 217.64,335.17 217.57,335.16 217.51,335.15 217.44,335.13 217.38,335.12 217.31,335.11 217.24,335.10 217.18,335.08 217.11,335.07 217.05,335.06 216.98,335.04 216.92,335.03 216.85,335.02 216.79,335.01 216.72,334.99 216.66,334.98 216.59,334.97 216.53,334.96 216.46,334.94 216.40,334.93 216.33,334.92 216.26,334.91 216.20,334.89 216.13,334.88 216.07,334.87 216.00,334.85 215.94,334.84 215.87,334.83 215.81,334.82 215.74,334.80 215.68,334.79 215.61,334.78 215.55,334.76 215.48,334.75 215.42,334.74 215.35,334.73 215.29,334.71 215.22,334.70 215.16,334.69 215.09,334.67 215.03,334.66 214.96,334.65 214.90,334.64 214.83,334.62 214.77,334.61 214.70,334.60 214.64,334.58 214.57,334.57 214.51,334.56 214.44,334.54 214.38,334.53 214.31,334.52 214.25,334.51 214.18,334.49 214.12,334.48 214.05,334.47 213.99,334.45 213.92,334.44 213.86,334.43 213.79,334.41 213.73,334.40 213.66,334.39 213.60,334.37 213.54,334.36 213.47,334.35 213.41,334.33 213.34,334.32 213.28,334.31 213.21,334.30 213.15,334.28 213.08,334.27 213.02,334.26 212.95,334.24 212.89,334.23 212.82,334.22 212.76,334.20 212.69,334.19 212.63,334.18 212.56,334.16 212.50,334.15 212.44,334.14 212.37,334.12 213.82,377.72 213.88,377.74 213.94,377.75 214.01,377.76 214.07,377.78 214.13,377.79 214.20,377.81 214.26,377.82 214.32,377.83 214.39,377.85 214.45,377.86 214.52,377.88 214.58,377.89 214.64,377.90 214.71,377.92 214.77,377.93 214.83,377.94 214.90,377.96 214.96,377.97 215.02,377.99 215.09,378.00 215.15,378.01 215.22,378.03 215.28,378.04 215.34,378.05 215.41,378.07 215.47,378.08 215.53,378.09 215.60,378.11 215.66,378.12 215.73,378.14 215.79,378.15 215.85,378.16 215.92,378.18 215.98,378.19 216.05,378.20 216.11,378.22 216.17,378.23 216.24,378.24 216.30,378.26 216.36,378.27 216.43,378.28 216.49,378.30 216.56,378.31 216.62,378.32 216.68,378.34 216.75,378.35 216.81,378.36 216.88,378.38 216.94,378.39 217.00,378.40 217.07,378.42 217.13,378.43 217.20,378.44 217.26,378.46 217.33,378.47 217.39,378.48 217.45,378.50 217.52,378.51 217.58,378.52 217.65,378.54 217.71,378.55 217.77,378.56 217.84,378.58 217.90,378.59 217.97,378.60 218.03,378.62 218.10,378.63 218.16,378.64 218.22,378.65 218.29,378.67 218.35,378.68 218.42,378.69 218.48,378.71 218.54,378.72 218.61,378.73 218.67,378.75 218.74,378.76 218.80,378.77 218.87,378.79 218.93,378.80 219.00,378.81 219.06,378.82 219.12,378.84 219.19,378.85 219.25,378.86 219.32,378.88 219.38,378.89 219.45,378.90 219.51,378.91 219.57,378.93 219.64,378.94 219.70,378.95 219.77,378.97 219.83,378.98 219.90,378.99 219.96,379.00 220.03,379.02 220.09,379.03 220.16,379.04 220.22,379.06 220.28,379.07 220.35,379.08 220.41,379.09 220.48,379.11 220.54,379.12 220.61,379.13 220.67,379.14 220.74,379.16 220.80,379.17 220.87,379.18 220.93,379.20 221.00,379.21 221.06,379.22 221.12,379.23 221.19,379.25 221.25,379.26 221.32,379.27 221.38,379.28 221.45,379.30 221.51,379.31 221.58,379.32 221.64,379.33 221.71,379.35 221.77,379.36 221.84,379.37 221.90,379.38 221.97,379.40 222.03,379.41 222.10,379.42 222.16,379.43 222.23,379.45 222.29,379.46 222.36,379.47 222.42,379.48 222.49,379.49 222.55,379.51 222.62,379.52 222.68,379.53 222.74,379.54 222.81,379.56 222.87,379.57 222.94,379.58 223.00,379.59 223.07,379.61 223.13,379.62 223.20,379.63 223.26,379.64 223.33,379.65 223.39,379.67 223.46,379.68 223.52,379.69 223.59,379.70 223.65,379.71 223.72,379.73 223.78,379.74 223.85,379.75 223.92,379.76 223.98,379.78 224.05,379.79 224.11,379.80 224.18,379.81 224.24,379.82 224.31,379.84 224.37,379.85 224.44,379.86 224.50,379.87 224.57,379.88 224.63,379.90 224.70,379.91 224.76,379.92 224.83,379.93 224.89,379.94 224.96,379.95 225.02,379.97 225.09,379.98 225.15,379.99 225.22,380.00 225.28,380.01 225.35,380.03 225.41,380.04 225.48,380.05 225.55,380.06 225.61,380.07 225.68,380.08 225.74,380.10 225.81,380.11 225.87,380.12 225.94,380.13 226.00,380.14 226.07,380.15 226.13,380.17 226.20,380.18 226.26,380.19 226.33,380.20 226.40,380.21 226.46,380.22 226.53,380.24 226.59,380.25 226.66,380.26 226.72,380.27 226.79,380.28 226.85,380.29 226.92,380.31 226.99,380.32 227.05,380.33 227.12,380.34 227.18,380.35 227.25,380.36 227.31,380.37 227.38,380.39 227.44,380.40 227.51,380.41 227.58,380.42 227.64,380.43 227.71,380.44 227.77,380.45 227.84,380.47 227.90,380.48 227.97,380.49 228.03,380.50 228.10,380.51 228.17,380.52 228.23,380.53 228.30,380.55 228.36,380.56 228.43,380.57 228.49,380.58 228.56,380.59 228.63,380.60 228.69,380.61 228.76,380.62 228.82,380.64 228.89,380.65 228.96,380.66 229.02,380.67 229.09,380.68 229.15,380.69 229.22,380.70 229.28,380.71 229.35,380.72 229.42,380.74 229.48,380.75 229.55,380.76 229.61,380.77 229.68,380.78 229.75,380.79 229.81,380.80 229.88,380.81 229.94,380.82 230.01,380.83 230.07,380.85 230.14,380.86 230.21,380.87 230.27,380.88 230.34,380.89 230.40,380.90 230.47,380.91 230.54,380.92 230.60,380.93 230.67,380.94 230.73,380.95 230.80,380.97 230.87,380.98 230.93,380.99 231.00,381.00 231.07,381.01 231.13,381.02 231.20,381.03 231.26,381.04 231.33,381.05 231.40,381.06 231.46,381.07 231.53,381.08 231.59,381.09 231.66,381.10 231.73,381.12 231.79,381.13 231.86,381.14 231.92,381.15 231.99,381.16 232.06,381.17 232.12,381.18 232.19,381.19 232.26,381.20 232.32,381.21 232.39,381.22 232.45,381.23 232.52,381.24 232.59,381.25 232.65,381.26 232.72,381.27 232.79,381.28 232.85,381.29 232.92,381.31 232.98,381.32 233.05,381.33 233.12,381.34 233.18,381.35 233.25,381.36 233.32,381.37 233.38,381.38 233.45,381.39 233.52,381.40 233.58,381.41 233.65,381.42 233.71,381.43 233.78,381.44 233.85,381.45 233.91,381.46 233.98,381.47 234.05,381.48 234.11,381.49 234.18,381.50 234.25,381.51 234.31,381.52 234.38,381.53 234.45,381.54 234.51,381.55 234.58,381.56 234.65,381.57 234.71,381.58 234.78,381.59 234.84,381.60 234.91,381.61 234.98,381.62 235.04,381.63 235.11,381.64 235.18,381.65 235.24,381.66 235.31,381.67 235.38,381.68 235.44,381.69 235.51,381.70 235.58,381.71 235.64,381.72 235.71,381.73 235.78,381.74 235.84,381.75 235.91,381.76 235.98,381.77 236.04,381.78 236.11,381.79 236.18,381.80 236.24,381.81 236.31,381.82 236.38,381.83 236.44,381.84 236.51,381.85 236.58,381.86 236.64,381.87 236.71,381.88 236.78,381.89 236.84,381.90 236.91,381.91 236.98,381.92 237.04,381.93 237.11,381.94 237.18,381.95 237.25,381.96 237.31,381.97 237.38,381.98 237.45,381.99 237.51,382.00 237.58,382.01 237.65,382.02 237.71,382.03 237.78,382.03 237.85,382.04 237.91,382.05 237.98,382.06 238.05,382.07 238.11,382.08 238.18,382.09 238.25,382.10 238.32,382.11 238.38,382.12 238.45,382.13 238.52,382.14 238.58,382.15 238.65,382.16 238.72,382.17 238.78,382.18 238.85,382.19 238.92,382.20 238.98,382.20 239.05,382.21 239.12,382.22 239.19,382.23 239.25,382.24 239.32,382.25 239.39,382.26 239.45,382.27 239.52,382.28 239.59,382.29 239.66,382.30 239.72,382.31 239.79,382.32 239.86,382.32 239.92,382.33" fill="url(#g3)" stroke="url(#g3)" stroke-width="1.0" stroke-linejoin="round"/><polygon points="290.70,231.68 238.92,338.56 236.83,338.29 234.74,338.00 232.67,337.70 230.60,337.39 228.54,337.07 226.48,336.74 224.44,336.40 222.40,336.05 220.38,335.68 218.36,335.31 216.36,334.92 214.36,334.53 212.37,334.12" fill="#6E2424" stroke="#6E2424" stroke-width="0.4" stroke-linejoin="round"/><polygon points="317.25,231.87 345.59,341.23 344.81,385.10 316.99,271.33" fill="#34475F" stroke="#34475F" stroke-width="1.0" stroke-linejoin="round"/><polygon points="407.82,331.97 407.68,332.00 407.53,332.04 407.39,332.07 407.24,332.11 407.10,332.14 406.95,332.18 406.80,332.21 406.66,332.25 406.51,332.28 406.37,332.32 406.22,332.35 406.08,332.39 405.93,332.42 405.78,332.46 405.64,332.49 405.49,332.53 405.34,332.56 405.20,332.59 405.05,332.63 404.90,332.66 404.76,332.70 404.61,332.73 404.46,332.77 404.32,332.80 404.17,332.83 404.02,332.87 403.88,332.90 403.73,332.94 403.58,332.97 403.43,333.00 403.29,333.04 403.14,333.07 402.99,333.10 402.84,333.14 402.70,333.17 402.55,333.20 402.40,333.24 402.25,333.27 402.11,333.30 401.96,333.34 401.81,333.37 401.66,333.40 401.51,333.44 401.37,333.47 401.22,333.50 401.07,333.53 400.92,333.57 400.77,333.60 400.62,333.63 400.48,333.67 400.33,333.70 400.18,333.73 400.03,333.76 399.88,333.79 399.73,333.83 399.58,333.86 399.43,333.89 399.29,333.92 399.14,333.96 398.99,333.99 398.84,334.02 398.69,334.05 398.54,334.08 398.39,334.11 398.24,334.15 398.09,334.18 397.94,334.21 397.79,334.24 397.64,334.27 397.49,334.30 397.34,334.34 397.19,334.37 397.04,334.40 396.89,334.43 396.74,334.46 396.59,334.49 396.44,334.52 396.29,334.55 396.14,334.58 395.99,334.61 395.84,334.65 395.69,334.68 395.54,334.71 395.39,334.74 395.24,334.77 395.09,334.80 394.94,334.83 394.79,334.86 394.63,334.89 394.48,334.92 394.33,334.95 394.18,334.98 394.03,335.01 393.88,335.04 393.73,335.07 393.58,335.10 393.43,335.13 393.27,335.16 393.12,335.19 392.97,335.22 392.82,335.25 392.67,335.28 392.52,335.31 392.36,335.33 392.21,335.36 392.06,335.39 391.91,335.42 391.76,335.45 391.60,335.48 391.45,335.51 391.30,335.54 391.15,335.57 391.00,335.60 390.84,335.62 390.69,335.65 390.54,335.68 390.39,335.71 390.23,335.74 390.08,335.77 389.93,335.80 389.78,335.82 389.62,335.85 389.47,335.88 389.32,335.91 389.16,335.94 389.01,335.96 388.86,335.99 388.70,336.02 388.55,336.05 388.40,336.08 388.24,336.10 388.09,336.13 387.94,336.16 387.78,336.19 387.63,336.21 387.48,336.24 387.32,336.27 387.17,336.30 387.02,336.32 386.86,336.35 386.71,336.38 386.55,336.40 386.40,336.43 386.25,336.46 386.09,336.48 385.94,336.51 385.78,336.54 385.63,336.56 385.48,336.59 385.32,336.62 385.17,336.64 385.01,336.67 384.86,336.70 384.70,336.72 384.55,336.75 384.40,336.78 384.24,336.80 384.09,336.83 383.93,336.85 383.78,336.88 383.62,336.91 383.47,336.93 383.31,336.96 383.16,336.98 383.00,337.01 382.85,337.03 382.69,337.06 382.54,337.08 382.38,337.11 382.23,337.13 382.07,337.16 381.91,337.19 381.76,337.21 381.60,337.24 381.45,337.26 381.29,337.29 381.14,337.31 380.98,337.33 380.83,337.36 380.67,337.38 380.51,337.41 380.36,337.43 380.20,337.46 380.05,337.48 379.89,337.51 379.73,337.53 379.58,337.55 379.42,337.58 379.27,337.60 379.11,337.63 378.95,337.65 378.80,337.67 378.64,337.70 378.48,337.72 378.33,337.75 378.17,337.77 378.01,337.79 377.86,337.82 377.70,337.84 377.54,337.86 377.39,337.89 377.23,337.91 377.07,337.93 376.92,337.96 376.76,337.98 376.60,338.00 376.45,338.03 376.29,338.05 376.13,338.07 375.97,338.09 375.82,338.12 375.66,338.14 375.50,338.16 375.34,338.18 375.19,338.21 375.03,338.23 374.87,338.25 374.71,338.27 374.56,338.30 374.40,338.32 374.24,338.34 374.08,338.36 373.93,338.38 373.77,338.41 373.61,338.43 373.45,338.45 373.29,338.47 373.14,338.49 372.98,338.51 372.82,338.53 372.66,338.56 372.50,338.58 372.35,338.60 372.19,338.62 372.03,338.64 371.87,338.66 371.71,338.68 371.55,338.70 371.40,338.73 371.24,338.75 371.08,338.77 370.92,338.79 370.76,338.81 370.60,338.83 370.44,338.85 370.29,338.87 370.13,338.89 369.97,338.91 369.81,338.93 369.65,338.95 369.49,338.97 369.33,338.99 369.17,339.01 369.01,339.03 368.86,339.05 368.70,339.07 368.54,339.09 368.38,339.11 368.22,339.13 368.06,339.15 367.90,339.17 367.74,339.19 367.58,339.21 367.42,339.23 367.26,339.25 367.10,339.26 366.94,339.28 366.78,339.30 366.62,339.32 366.46,339.34 366.30,339.36 366.14,339.38 365.98,339.40 365.82,339.42 365.67,339.43 365.51,339.45 365.35,339.47 365.19,339.49 365.03,339.51 364.87,339.53 364.71,339.54 364.54,339.56 364.38,339.58 364.22,339.60 364.06,339.62 363.90,339.63 363.74,339.65 363.58,339.67 363.42,339.69 363.26,339.70 363.10,339.72 362.94,339.74 362.78,339.76 362.62,339.77 362.46,339.79 362.30,339.81 362.14,339.83 361.98,339.84 361.82,339.86 361.66,339.88 361.50,339.89 361.33,339.91 361.17,339.93 361.01,339.94 360.85,339.96 360.69,339.98 360.53,339.99 360.37,340.01 360.21,340.03 360.05,340.04 359.89,340.06 359.72,340.08 359.56,340.09 359.40,340.11 359.24,340.12 359.08,340.14 358.92,340.16 358.76,340.17 358.60,340.19 358.43,340.20 358.27,340.22 358.11,340.23 357.95,340.25 357.79,340.26 357.63,340.28 357.47,340.29 357.30,340.31 357.14,340.32 356.98,340.34 356.82,340.35 356.66,340.37 356.49,340.38 356.33,340.40 356.17,340.41 356.01,340.43 355.85,340.44 355.69,340.46 355.52,340.47 355.36,340.49 355.20,340.50 355.04,340.52 354.88,340.53 354.71,340.54 354.55,340.56 354.39,340.57 354.23,340.59 354.06,340.60 353.90,340.61 353.74,340.63 353.58,340.64 353.42,340.65 353.25,340.67 353.09,340.68 352.93,340.69 352.77,340.71 352.60,340.72 352.44,340.73 352.28,340.75 352.12,340.76 351.95,340.77 351.79,340.79 351.63,340.80 351.46,340.81 351.30,340.82 351.14,340.84 350.98,340.85 350.81,340.86 350.65,340.87 350.49,340.89 350.33,340.90 350.16,340.91 350.00,340.92 349.84,340.94 349.67,340.95 349.51,340.96 349.35,340.97 349.18,340.98 349.02,341.00 348.86,341.01 348.70,341.02 348.53,341.03 348.37,341.04 348.21,341.05 348.04,341.07 347.88,341.08 347.72,341.09 347.55,341.10 347.39,341.11 347.23,341.12 347.06,341.13 346.90,341.14 346.74,341.15 346.57,341.16 346.41,341.18 346.25,341.19 346.08,341.20 345.92,341.21 345.76,341.22 345.59,341.23 344.81,385.10 344.97,385.09 345.13,385.08 345.29,385.07 345.45,385.06 345.61,385.04 345.77,385.03 345.93,385.02 346.09,385.01 346.25,385.00 346.41,384.99 346.57,384.98 346.73,384.97 346.90,384.95 347.06,384.94 347.22,384.93 347.38,384.92 347.54,384.91 347.70,384.89 347.86,384.88 348.02,384.87 348.18,384.86 348.34,384.85 348.50,384.83 348.66,384.82 348.82,384.81 348.98,384.80 349.14,384.78 349.30,384.77 349.46,384.76 349.62,384.75 349.78,384.73 349.94,384.72 350.10,384.71 350.26,384.69 350.42,384.68 350.58,384.67 350.74,384.65 350.90,384.64 351.06,384.63 351.22,384.61 351.38,384.60 351.54,384.59 351.70,384.57 351.86,384.56 352.02,384.55 352.18,384.53 352.34,384.52 352.50,384.50 352.66,384.49 352.82,384.48 352.98,384.46 353.14,384.45 353.30,384.43 353.46,384.42 353.62,384.40 353.77,384.39 353.93,384.37 354.09,384.36 354.25,384.34 354.41,384.33 354.57,384.31 354.73,384.30 354.89,384.28 355.05,384.27 355.21,384.25 355.37,384.24 355.53,384.22 355.69,384.21 355.84,384.19 356.00,384.18 356.16,384.16 356.32,384.15 356.48,384.13 356.64,384.11 356.80,384.10 356.96,384.08 357.12,384.07 357.27,384.05 357.43,384.03 357.59,384.02 357.75,384.00 357.91,383.99 358.07,383.97 358.23,383.95 358.39,383.94 358.54,383.92 358.70,383.90 358.86,383.89 359.02,383.87 359.18,383.85 359.34,383.84 359.49,383.82 359.65,383.80 359.81,383.78 359.97,383.77 360.13,383.75 360.29,383.73 360.44,383.71 360.60,383.70 360.76,383.68 360.92,383.66 361.08,383.64 361.23,383.63 361.39,383.61 361.55,383.59 361.71,383.57 361.87,383.55 362.02,383.54 362.18,383.52 362.34,383.50 362.50,383.48 362.65,383.46 362.81,383.45 362.97,383.43 363.13,383.41 363.28,383.39 363.44,383.37 363.60,383.35 363.76,383.33 363.91,383.31 364.07,383.29 364.23,383.28 364.39,383.26 364.54,383.24 364.70,383.22 364.86,383.20 365.02,383.18 365.17,383.16 365.33,383.14 365.49,383.12 365.64,383.10 365.80,383.08 365.96,383.06 366.11,383.04 366.27,383.02 366.43,383.00 366.58,382.98 366.74,382.96 366.90,382.94 367.05,382.92 367.21,382.90 367.37,382.88 367.52,382.86 367.68,382.84 367.84,382.82 367.99,382.80 368.15,382.78 368.31,382.76 368.46,382.74 368.62,382.71 368.78,382.69 368.93,382.67 369.09,382.65 369.24,382.63 369.40,382.61 369.56,382.59 369.71,382.57 369.87,382.54 370.02,382.52 370.18,382.50 370.34,382.48 370.49,382.46 370.65,382.44 370.80,382.41 370.96,382.39 371.11,382.37 371.27,382.35 371.43,382.33 371.58,382.30 371.74,382.28 371.89,382.26 372.05,382.24 372.20,382.21 372.36,382.19 372.51,382.17 372.67,382.15 372.82,382.12 372.98,382.10 373.13,382.08 373.29,382.06 373.44,382.03 373.60,382.01 373.75,381.99 373.91,381.96 374.06,381.94 374.22,381.92 374.37,381.89 374.53,381.87 374.68,381.85 374.84,381.82 374.99,381.80 375.15,381.77 375.30,381.75 375.45,381.73 375.61,381.70 375.76,381.68 375.92,381.66 376.07,381.63 376.23,381.61 376.38,381.58 376.53,381.56 376.69,381.53 376.84,381.51 377.00,381.49 377.15,381.46 377.30,381.44 377.46,381.41 377.61,381.39 377.77,381.36 377.92,381.34 378.07,381.31 378.23,381.29 378.38,381.26 378.53,381.24 378.69,381.21 378.84,381.19 378.99,381.16 379.15,381.13 379.30,381.11 379.45,381.08 379.61,381.06 379.76,381.03 379.91,381.01 380.07,380.98 380.22,380.95 380.37,380.93 380.52,380.90 380.68,380.88 380.83,380.85 380.98,380.82 381.14,380.80 381.29,380.77 381.44,380.75 381.59,380.72 381.75,380.69 381.90,380.67 382.05,380.64 382.20,380.61 382.36,380.59 382.51,380.56 382.66,380.53 382.81,380.50 382.96,380.48 383.12,380.45 383.27,380.42 383.42,380.40 383.57,380.37 383.72,380.34 383.88,380.31 384.03,380.29 384.18,380.26 384.33,380.23 384.48,380.20 384.63,380.18 384.79,380.15 384.94,380.12 385.09,380.09 385.24,380.06 385.39,380.04 385.54,380.01 385.69,379.98 385.84,379.95 386.00,379.92 386.15,379.89 386.30,379.87 386.45,379.84 386.60,379.81 386.75,379.78 386.90,379.75 387.05,379.72 387.20,379.69 387.35,379.67 387.50,379.64 387.65,379.61 387.80,379.58 387.96,379.55 388.11,379.52 388.26,379.49 388.41,379.46 388.56,379.43 388.71,379.40 388.86,379.37 389.01,379.34 389.16,379.31 389.31,379.28 389.46,379.25 389.61,379.22 389.76,379.19 389.91,379.16 390.05,379.13 390.20,379.10 390.35,379.07 390.50,379.04 390.65,379.01 390.80,378.98 390.95,378.95 391.10,378.92 391.25,378.89 391.40,378.86 391.55,378.83 391.70,378.80 391.85,378.77 392.00,378.74 392.14,378.71 392.29,378.67 392.44,378.64 392.59,378.61 392.74,378.58 392.89,378.55 393.04,378.52 393.18,378.49 393.33,378.46 393.48,378.42 393.63,378.39 393.78,378.36 393.93,378.33 394.07,378.30 394.22,378.27 394.37,378.23 394.52,378.20 394.67,378.17 394.81,378.14 394.96,378.11 395.11,378.07 395.26,378.04 395.40,378.01 395.55,377.98 395.70,377.94 395.85,377.91 395.99,377.88 396.14,377.85 396.29,377.81 396.44,377.78 396.58,377.75 396.73,377.72 396.88,377.68 397.02,377.65 397.17,377.62 397.32,377.58 397.46,377.55 397.61,377.52 397.76,377.48 397.90,377.45 398.05,377.42 398.20,377.38 398.34,377.35 398.49,377.32 398.64,377.28 398.78,377.25 398.93,377.22 399.07,377.18 399.22,377.15 399.37,377.11 399.51,377.08 399.66,377.05 399.80,377.01 399.95,376.98 400.09,376.94 400.24,376.91 400.39,376.87 400.53,376.84 400.68,376.80 400.82,376.77 400.97,376.74 401.11,376.70 401.26,376.67 401.40,376.63 401.55,376.60 401.69,376.56 401.84,376.53 401.98,376.49 402.13,376.46 402.27,376.42 402.42,376.39 402.56,376.35 402.71,376.31 402.85,376.28 402.99,376.24 403.14,376.21 403.28,376.17 403.43,376.14 403.57,376.10 403.72,376.07 403.86,376.03 404.00,375.99 404.15,375.96 404.29,375.92 404.43,375.89 404.58,375.85 404.72,375.81 404.87,375.78 405.01,375.74 405.15,375.70 405.30,375.67 405.44,375.63 405.58,375.59 405.73,375.56 405.87,375.52 406.01,375.48" fill="url(#g1)" stroke="url(#g1)" stroke-width="1.0" stroke-linejoin="round"/><polygon points="317.25,231.87 407.82,331.97 406.01,332.40 404.18,332.83 402.34,333.25 400.49,333.66 398.64,334.06 396.77,334.45 394.89,334.84 393.01,335.21 391.11,335.57 389.21,335.93 387.30,336.27 385.38,336.61 383.45,336.93 381.52,337.25 379.57,337.56 377.62,337.85 375.66,338.14 373.70,338.41 371.73,338.68 369.75,338.94 367.77,339.18 365.77,339.42 363.78,339.65 361.78,339.86 359.77,340.07 357.76,340.27 355.74,340.45 353.72,340.63 351.69,340.79 349.66,340.95 347.63,341.09 345.59,341.23" fill="#8DB3E2" stroke="#8DB3E2" stroke-width="0.4" stroke-linejoin="round"/><polygon points="327.81,342.24 327.62,342.25 327.43,342.26 327.24,342.27 327.05,342.28 326.86,342.29 326.67,342.31 326.48,342.32 326.29,342.33 326.10,342.34 325.90,342.35 325.71,342.36 325.52,342.37 325.33,342.38 325.14,342.40 324.95,342.41 324.76,342.42 324.57,342.43 324.38,342.44 324.19,342.45 324.00,342.46 323.81,342.47 323.61,342.48 323.42,342.49 323.23,342.50 323.04,342.51 322.85,342.52 322.66,342.53 322.47,342.54 322.28,342.55 322.09,342.56 321.90,342.57 321.70,342.58 321.51,342.58 321.32,342.59 321.13,342.60 320.94,342.61 320.75,342.62 320.56,342.63 320.37,342.64 320.17,342.65 319.98,342.65 319.79,342.66 319.60,342.67 319.41,342.68 319.22,342.69 319.03,342.69 318.83,342.70 318.64,342.71 318.45,342.72 318.26,342.73 318.07,342.73 317.88,342.74 317.68,342.75 317.49,342.76 317.30,342.76 317.11,342.77 316.92,342.78 316.73,342.78 316.54,342.79 316.34,342.80 316.15,342.80 315.96,342.81 315.77,342.82 315.58,342.82 315.38,342.83 315.19,342.83 315.00,342.84 314.81,342.85 314.62,342.85 314.43,342.86 314.23,342.86 314.04,342.87 313.85,342.88 313.66,342.88 313.47,342.89 313.27,342.89 313.08,342.90 312.89,342.90 312.70,342.91 312.51,342.91 312.32,342.92 312.12,342.92 311.93,342.92 311.74,342.93 311.55,342.93 311.36,342.94 311.16,342.94 310.97,342.95 310.78,342.95 310.59,342.95 310.40,342.96 310.20,342.96 310.01,342.97 309.82,342.97 309.63,342.97 309.43,342.98 309.24,342.98 309.05,342.98 308.86,342.99 308.67,342.99 308.47,342.99 308.28,342.99 308.09,343.00 307.90,343.00 307.71,343.00 307.51,343.00 307.32,343.01 307.13,343.01 306.94,343.01 306.74,343.01 306.55,343.02 306.36,343.02 306.17,343.02 305.98,343.02 305.78,343.02 305.59,343.02 305.40,343.03 305.21,343.03 305.02,343.03 304.82,343.03 304.63,343.03 304.44,343.03 304.25,343.03 304.05,343.03 303.86,343.03 303.67,343.04 303.48,343.04 303.28,343.04 303.09,343.04 302.90,343.04 302.71,343.04 302.52,343.04 302.32,343.04 302.13,343.04 301.94,343.04 301.75,343.04 301.55,343.04 301.36,343.04 301.17,343.04 300.98,343.03 300.79,343.03 300.59,343.03 300.40,343.03 300.21,343.03 300.02,343.03 299.82,343.03 299.63,343.03 299.44,343.03 299.25,343.03 299.06,343.02 298.86,343.02 298.67,343.02 298.48,343.02 298.29,343.02 298.09,343.01 297.90,343.01 297.71,343.01 297.52,343.01 297.33,343.01 297.13,343.00 296.94,343.00 296.75,343.00 296.56,343.00 296.36,342.99 296.17,342.99 295.98,342.99 295.79,342.98 295.60,342.98 295.40,342.98 295.21,342.97 295.02,342.97 294.83,342.97 294.64,342.96 294.44,342.96 294.25,342.96 294.06,342.95 293.87,342.95 293.68,342.94 293.48,342.94 293.29,342.93 293.10,342.93 292.91,342.93 292.72,342.92 292.52,342.92 292.33,342.91 292.14,342.91 291.95,342.90 291.76,342.90 291.56,342.89 291.37,342.89 291.18,342.88 290.99,342.88 290.80,342.87 290.60,342.87 290.41,342.86 290.22,342.85 290.03,342.85 289.84,342.84 289.64,342.84 289.45,342.83 289.26,342.82 289.07,342.82 288.88,342.81 288.69,342.80 288.49,342.80 288.30,342.79 288.11,342.78 287.92,342.78 287.73,342.77 287.54,342.76 287.34,342.76 287.15,342.75 286.96,342.74 286.77,342.74 286.58,342.73 286.39,342.72 286.19,342.71 286.00,342.70 285.81,342.70 285.62,342.69 285.43,342.68 285.24,342.67 285.05,342.66 284.85,342.66 284.66,342.65 284.47,342.64 284.28,342.63 284.09,342.62 283.90,342.61 283.71,342.60 283.51,342.60 283.32,342.59 283.13,342.58 282.94,342.57 282.75,342.56 282.56,342.55 282.37,342.54 282.18,342.53 281.98,342.52 281.79,342.51 281.60,342.50 281.41,342.49 281.22,342.48 281.03,342.47 280.84,342.46 280.65,342.45 280.46,342.44 280.26,342.43 280.07,342.42 279.88,342.41 279.69,342.40 279.50,342.39 279.31,342.38 279.12,342.37 278.93,342.35 278.74,342.34 278.55,342.33 278.36,342.32 278.17,342.31 277.98,342.30 277.78,342.29 277.59,342.27 277.40,342.26 277.21,342.25 277.02,342.24 276.83,342.23 276.64,342.21 276.45,342.20 276.26,342.19 276.07,342.18 275.88,342.17 275.69,342.15 275.50,342.14 275.31,342.13 275.12,342.11 274.93,342.10 274.74,342.09 274.55,342.07 274.36,342.06 274.17,342.05 273.98,342.03 273.79,342.02 273.60,342.01 273.41,341.99 273.22,341.98 273.03,341.97 272.84,341.95 272.65,341.94 272.46,341.92 272.27,341.91 272.08,341.90 271.89,341.88 271.70,341.87 271.51,341.85 271.32,341.84 271.13,341.82 270.94,341.81 270.75,341.79 270.56,341.78 270.37,341.76 270.18,341.75 269.99,341.73 269.80,341.72 269.61,341.70 269.42,341.69 269.24,341.67 269.05,341.65 268.86,341.64 268.67,341.62 268.48,341.61 268.29,341.59 268.10,341.57 267.91,341.56 267.72,341.54 267.53,341.52 267.34,341.51 267.16,341.49 266.97,341.47 266.78,341.46 266.59,341.44 266.40,341.42 266.21,341.41 266.02,341.39 265.83,341.37 265.65,341.36 265.46,341.34 265.27,341.32 265.08,341.30 264.89,341.28 264.70,341.27 264.52,341.25 264.33,341.23 264.14,341.21 263.95,341.19 263.76,341.18 263.57,341.16 263.39,341.14 263.20,341.12 263.01,341.10 262.82,341.08 262.63,341.07 262.45,341.05 262.26,341.03 262.07,341.01 261.88,340.99 261.69,340.97 261.51,340.95 261.32,340.93 261.13,340.91 260.94,340.89 260.76,340.87 260.57,340.85 260.38,340.83 260.19,340.81 260.01,340.79 259.82,340.77 259.63,340.75 259.44,340.73 259.26,340.71 259.07,340.69 258.88,340.67 258.70,340.65 258.51,340.63 258.32,340.61 258.14,340.59 257.95,340.57 257.76,340.55 257.57,340.52 257.39,340.50 257.20,340.48 257.01,340.46 256.83,340.44 256.64,340.42 256.46,340.40 256.27,340.37 256.08,340.35 255.90,340.33 255.71,340.31 255.52,340.29 255.34,340.26 255.15,340.24 254.96,340.22 254.78,340.20 254.59,340.17 254.41,340.15 254.22,340.13 254.04,340.11 253.85,340.08 253.66,340.06 253.48,340.04 253.29,340.01 253.11,339.99 252.92,339.97 252.74,339.94 252.55,339.92 252.36,339.90 252.18,339.87 251.99,339.85 251.81,339.82 252.60,383.64 252.78,383.67 252.97,383.69 253.15,383.72 253.33,383.74 253.51,383.77 253.69,383.79 253.88,383.81 254.06,383.84 254.24,383.86 254.42,383.89 254.61,383.91 254.79,383.93 254.97,383.96 255.16,383.98 255.34,384.01 255.52,384.03 255.70,384.05 255.89,384.08 256.07,384.10 256.25,384.12 256.44,384.14 256.62,384.17 256.80,384.19 256.99,384.21 257.17,384.24 257.35,384.26 257.54,384.28 257.72,384.30 257.90,384.32 258.09,384.35 258.27,384.37 258.45,384.39 258.64,384.41 258.82,384.43 259.01,384.46 259.19,384.48 259.37,384.50 259.56,384.52 259.74,384.54 259.93,384.56 260.11,384.58 260.29,384.61 260.48,384.63 260.66,384.65 260.85,384.67 261.03,384.69 261.21,384.71 261.40,384.73 261.58,384.75 261.77,384.77 261.95,384.79 262.14,384.81 262.32,384.83 262.51,384.85 262.69,384.87 262.88,384.89 263.06,384.91 263.24,384.93 263.43,384.95 263.61,384.97 263.80,384.99 263.98,385.01 264.17,385.03 264.35,385.05 264.54,385.06 264.72,385.08 264.91,385.10 265.09,385.12 265.28,385.14 265.47,385.16 265.65,385.18 265.84,385.19 266.02,385.21 266.21,385.23 266.39,385.25 266.58,385.27 266.76,385.29 266.95,385.30 267.13,385.32 267.32,385.34 267.51,385.36 267.69,385.37 267.88,385.39 268.06,385.41 268.25,385.42 268.43,385.44 268.62,385.46 268.81,385.48 268.99,385.49 269.18,385.51 269.36,385.53 269.55,385.54 269.74,385.56 269.92,385.57 270.11,385.59 270.29,385.61 270.48,385.62 270.67,385.64 270.85,385.65 271.04,385.67 271.23,385.69 271.41,385.70 271.60,385.72 271.78,385.73 271.97,385.75 272.16,385.76 272.34,385.78 272.53,385.79 272.72,385.81 272.90,385.82 273.09,385.84 273.28,385.85 273.46,385.87 273.65,385.88 273.84,385.89 274.02,385.91 274.21,385.92 274.40,385.94 274.59,385.95 274.77,385.96 274.96,385.98 275.15,385.99 275.33,386.01 275.52,386.02 275.71,386.03 275.89,386.05 276.08,386.06 276.27,386.07 276.46,386.08 276.64,386.10 276.83,386.11 277.02,386.12 277.20,386.14 277.39,386.15 277.58,386.16 277.77,386.17 277.95,386.19 278.14,386.20 278.33,386.21 278.52,386.22 278.70,386.23 278.89,386.25 279.08,386.26 279.27,386.27 279.45,386.28 279.64,386.29 279.83,386.30 280.02,386.31 280.20,386.33 280.39,386.34 280.58,386.35 280.77,386.36 280.96,386.37 281.14,386.38 281.33,386.39 281.52,386.40 281.71,386.41 281.89,386.42 282.08,386.43 282.27,386.44 282.46,386.45 282.65,386.46 282.83,386.47 283.02,386.48 283.21,386.49 283.40,386.50 283.59,386.51 283.77,386.52 283.96,386.53 284.15,386.54 284.34,386.55 284.53,386.56 284.71,386.56 284.90,386.57 285.09,386.58 285.28,386.59 285.47,386.60 285.66,386.61 285.84,386.62 286.03,386.62 286.22,386.63 286.41,386.64 286.60,386.65 286.79,386.66 286.97,386.66 287.16,386.67 287.35,386.68 287.54,386.69 287.73,386.69 287.92,386.70 288.10,386.71 288.29,386.72 288.48,386.72 288.67,386.73 288.86,386.74 289.05,386.74 289.24,386.75 289.42,386.76 289.61,386.76 289.80,386.77 289.99,386.77 290.18,386.78 290.37,386.79 290.56,386.79 290.74,386.80 290.93,386.80 291.12,386.81 291.31,386.82 291.50,386.82 291.69,386.83 291.88,386.83 292.07,386.84 292.25,386.84 292.44,386.85 292.63,386.85 292.82,386.86 293.01,386.86 293.20,386.87 293.39,386.87 293.58,386.88 293.76,386.88 293.95,386.88 294.14,386.89 294.33,386.89 294.52,386.90 294.71,386.90 294.90,386.90 295.09,386.91 295.27,386.91 295.46,386.91 295.65,386.92 295.84,386.92 296.03,386.92 296.22,386.93 296.41,386.93 296.60,386.93 296.79,386.94 296.98,386.94 297.16,386.94 297.35,386.94 297.54,386.95 297.73,386.95 297.92,386.95 298.11,386.95 298.30,386.96 298.49,386.96 298.68,386.96 298.86,386.96 299.05,386.96 299.24,386.96 299.43,386.97 299.62,386.97 299.81,386.97 300.00,386.97 300.19,386.97 300.38,386.97 300.57,386.97 300.75,386.97 300.94,386.97 301.13,386.98 301.32,386.98 301.51,386.98 301.70,386.98 301.89,386.98 302.08,386.98 302.27,386.98 302.46,386.98 302.64,386.98 302.83,386.98 303.02,386.98 303.21,386.98 303.40,386.98 303.59,386.98 303.78,386.97 303.97,386.97 304.16,386.97 304.35,386.97 304.53,386.97 304.72,386.97 304.91,386.97 305.10,386.97 305.29,386.97 305.48,386.96 305.67,386.96 305.86,386.96 306.05,386.96 306.24,386.96 306.42,386.95 306.61,386.95 306.80,386.95 306.99,386.95 307.18,386.95 307.37,386.94 307.56,386.94 307.75,386.94 307.94,386.94 308.12,386.93 308.31,386.93 308.50,386.93 308.69,386.92 308.88,386.92 309.07,386.92 309.26,386.91 309.45,386.91 309.64,386.91 309.82,386.90 310.01,386.90 310.20,386.90 310.39,386.89 310.58,386.89 310.77,386.88 310.96,386.88 311.15,386.87 311.33,386.87 311.52,386.87 311.71,386.86 311.90,386.86 312.09,386.85 312.28,386.85 312.47,386.84 312.66,386.84 312.84,386.83 313.03,386.83 313.22,386.82 313.41,386.81 313.60,386.81 313.79,386.80 313.98,386.80 314.16,386.79 314.35,386.79 314.54,386.78 314.73,386.77 314.92,386.77 315.11,386.76 315.30,386.75 315.48,386.75 315.67,386.74 315.86,386.73 316.05,386.73 316.24,386.72 316.43,386.71 316.62,386.71 316.80,386.70 316.99,386.69 317.18,386.68 317.37,386.68 317.56,386.67 317.75,386.66 317.93,386.65 318.12,386.65 318.31,386.64 318.50,386.63 318.69,386.62 318.87,386.61 319.06,386.61 319.25,386.60 319.44,386.59 319.63,386.58 319.82,386.57 320.00,386.56 320.19,386.55 320.38,386.54 320.57,386.54 320.76,386.53 320.94,386.52 321.13,386.51 321.32,386.50 321.51,386.49 321.70,386.48 321.88,386.47 322.07,386.46 322.26,386.45 322.45,386.44 322.63,386.43 322.82,386.42 323.01,386.41 323.20,386.40 323.39,386.39 323.57,386.38 323.76,386.37 323.95,386.36 324.14,386.34 324.32,386.33 324.51,386.32 324.70,386.31 324.89,386.30 325.07,386.29 325.26,386.28 325.45,386.27 325.64,386.25 325.82,386.24 326.01,386.23 326.20,386.22 326.39,386.21 326.57,386.19 326.76,386.18 326.95,386.17 327.14,386.16 327.32,386.15" fill="url(#g2)" stroke="url(#g2)" stroke-width="1.0" stroke-linejoin="round"/><polygon points="301.91,232.62 327.81,342.24 325.75,342.36 323.70,342.47 321.64,342.58 319.57,342.67 317.51,342.75 315.44,342.83 313.37,342.89 311.30,342.94 309.23,342.98 307.16,343.01 305.09,343.03 303.01,343.04 300.94,343.03 298.87,343.02 296.80,343.00 294.72,342.96 292.65,342.92 290.58,342.86 288.51,342.80 286.45,342.72 284.38,342.64 282.32,342.54 280.26,342.43 278.20,342.31 276.15,342.18 274.10,342.04 272.05,341.89 270.00,341.73 267.96,341.56 265.93,341.38 263.89,341.19 261.87,340.99 259.84,340.78 257.83,340.55 255.82,340.32 253.81,340.08 251.81,339.82" fill="#C4D6EE" stroke="#C4D6EE" stroke-width="0.4" stroke-linejoin="round"/>
<text x="541.7" y="192.8" textLength="35.5" lengthAdjust="spacingAndGlyphs">43%</text><text x="382.7" y="409.6" textLength="24.8" lengthAdjust="spacingAndGlyphs">5%</text><text x="270.6" y="413.7" textLength="24.6" lengthAdjust="spacingAndGlyphs">5%</text><text x="191.0" y="406.9" textLength="24.2" lengthAdjust="spacingAndGlyphs">2%</text><text x="154.7" y="398.7" textLength="24.8" lengthAdjust="spacingAndGlyphs">3%</text><text x="129.6" y="387.6" textLength="23.8" lengthAdjust="spacingAndGlyphs">1%</text><text x="84.2" y="362.8" textLength="23.9" lengthAdjust="spacingAndGlyphs">6%</text><text x="53.5" y="336.0" textLength="23.3" lengthAdjust="spacingAndGlyphs">1%</text><text x="52.0" y="170.9" textLength="35.3" lengthAdjust="spacingAndGlyphs">32%</text><text x="268.0" y="104.9" textLength="24.3" lengthAdjust="spacingAndGlyphs">2%</text><rect x="636" y="70.0" width="12" height="11" fill="#5085CB"/><text x="654.5" y="80.7" textLength="225.8" lengthAdjust="spacingAndGlyphs">Acquisition des référentiels</text><rect x="636" y="107.7" width="12" height="11" fill="#8DB3E2"/><text x="654.5" y="118.4" textLength="212.7" lengthAdjust="spacingAndGlyphs">Matériel et périphériques</text><rect x="636" y="145.3" width="12" height="11" fill="#C6D9F1"/><text x="654.5" y="156.0" textLength="70.3" lengthAdjust="spacingAndGlyphs">Logiciels</text><rect x="636" y="183.0" width="12" height="11" fill="#652424"/><text x="654.5" y="193.7" textLength="94.7" lengthAdjust="spacingAndGlyphs">Formations</text><rect x="636" y="220.7" width="12" height="11" fill="#9A3636"/><text x="654.5" y="231.4" textLength="269.7" lengthAdjust="spacingAndGlyphs">Mise en œuvre web services SIG</text><rect x="636" y="258.4" width="12" height="11" fill="#D99694"/><text x="654.5" y="269.1" textLength="197.4" lengthAdjust="spacingAndGlyphs">Plan de communication</text><rect x="636" y="296.0" width="12" height="11" fill="#E6B9B8"/><text x="654.5" y="306.7" textLength="201.2" lengthAdjust="spacingAndGlyphs">Déplacements, missions</text><rect x="636" y="333.7" width="12" height="11" fill="#F2DCDB"/><text x="654.5" y="344.4" textLength="215.5" lengthAdjust="spacingAndGlyphs">Frais de maîtrise d’oeuvre</text><rect x="636" y="371.4" width="12" height="11" fill="#77933C"/><text x="654.5" y="382.1" textLength="153.9" lengthAdjust="spacingAndGlyphs">Salaires et charges</text><rect x="636" y="409.0" width="12" height="11" fill="#D7E4BD"/><text x="654.5" y="419.7" textLength="119.1" lengthAdjust="spacingAndGlyphs">Frais généraux</text>
</svg>
</body></html>
